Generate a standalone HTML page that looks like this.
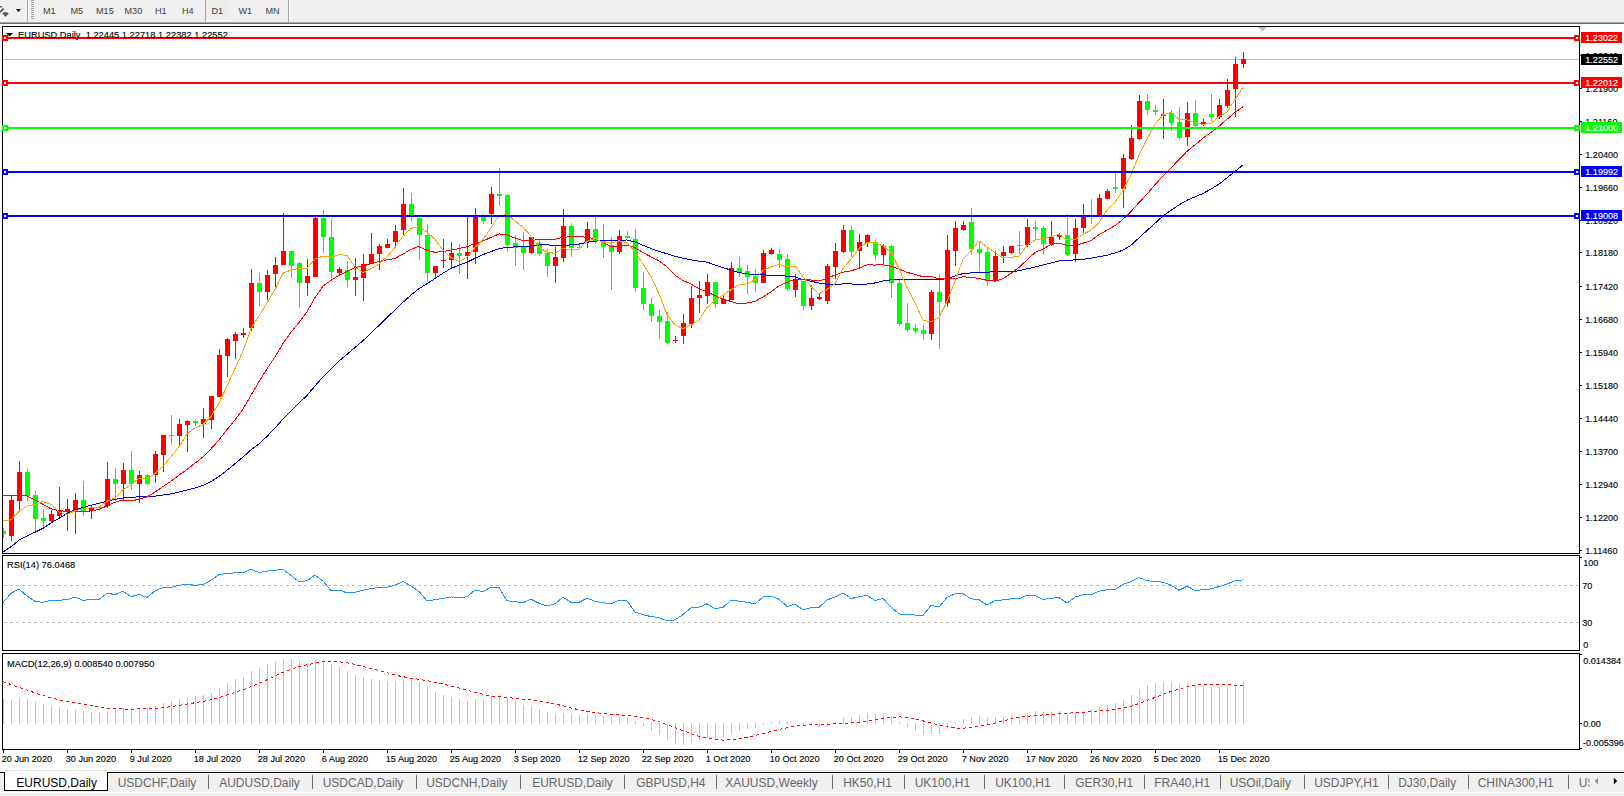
<!DOCTYPE html><html><head><meta charset="utf-8"><style>
html,body{margin:0;padding:0;background:#fff;width:1624px;height:796px;overflow:hidden;}
body{position:relative;font-family:"Liberation Sans",sans-serif;}
.a{position:absolute;}
svg text{font-family:"Liberation Sans",sans-serif;}
</style></head><body>
<svg class="a" style="left:0;top:0" width="1624" height="796" viewBox="0 0 1624 796">
<rect x="0" y="0" width="1624" height="22" fill="#f0f0f0"/>
<rect x="0" y="22" width="1624" height="1" fill="#a5a5a5"/>
<rect x="0" y="23" width="1624" height="1" fill="#6e6e6e"/>
<rect x="27" y="0" width="1" height="22" fill="#a0a0a0"/><rect x="28" y="0" width="1" height="22" fill="#ffffff"/>
<rect x="205" y="0" width="1" height="22" fill="#a0a0a0"/><rect x="206" y="0" width="1" height="22" fill="#ffffff"/>
<rect x="288" y="0" width="1" height="22" fill="#a0a0a0"/><rect x="289" y="0" width="1" height="22" fill="#ffffff"/>
<rect x="31" y="0" width="3" height="1" fill="#a0a0a0"/>
<rect x="31" y="2" width="3" height="1" fill="#a0a0a0"/>
<rect x="31" y="4" width="3" height="1" fill="#a0a0a0"/>
<rect x="31" y="6" width="3" height="1" fill="#a0a0a0"/>
<rect x="31" y="8" width="3" height="1" fill="#a0a0a0"/>
<rect x="31" y="10" width="3" height="1" fill="#a0a0a0"/>
<rect x="31" y="12" width="3" height="1" fill="#a0a0a0"/>
<rect x="31" y="14" width="3" height="1" fill="#a0a0a0"/>
<rect x="31" y="16" width="3" height="1" fill="#a0a0a0"/>
<rect x="31" y="18" width="3" height="1" fill="#a0a0a0"/>
<rect x="206" y="0" width="24" height="20" fill="#ededed"/>
<rect x="206" y="20" width="24" height="1" fill="#ffffff"/>
<path d="M0,6.6 Q1.6,6.6 2,7.2" fill="none" stroke="#444" stroke-width="1.1"/>
<path d="M3.6,8.4 L0,12.2" fill="none" stroke="#333" stroke-width="1.4"/>
<path d="M2.2,13.2 L4.5,12.3 L6.5,12.3 L8.8,13.2 L5.5,16.9 Z" fill="#555"/>
<path d="M16,9 L21,9 L18.5,12 Z" fill="#000"/>
<g shape-rendering="crispEdges">
<rect x="3" y="59" width="1576" height="1" fill="#c0c0c0"/>
<rect x="3" y="528" width="1" height="10" fill="#00ff00"/>
<rect x="1" y="531" width="5" height="3" fill="#00ff00"/>
<rect x="11" y="496" width="1" height="45" fill="#ff0000"/>
<rect x="9" y="500" width="5" height="36" fill="#ff0000"/>
<rect x="19" y="461" width="1" height="51" fill="#ff0000"/>
<rect x="17" y="472" width="5" height="29" fill="#ff0000"/>
<rect x="27" y="469" width="1" height="33" fill="#00ff00"/>
<rect x="25" y="472" width="5" height="24" fill="#00ff00"/>
<rect x="35" y="491" width="1" height="40" fill="#00ff00"/>
<rect x="33" y="495" width="5" height="24" fill="#00ff00"/>
<rect x="43" y="509" width="1" height="19" fill="#00ff00"/>
<rect x="41" y="518" width="5" height="3" fill="#00ff00"/>
<rect x="51" y="510" width="1" height="12" fill="#ff0000"/>
<rect x="49" y="514" width="5" height="7" fill="#ff0000"/>
<rect x="59" y="487" width="1" height="31" fill="#ff0000"/>
<rect x="57" y="510" width="5" height="6" fill="#ff0000"/>
<rect x="67" y="499" width="1" height="32" fill="#ff0000"/>
<rect x="65" y="509" width="5" height="2" fill="#ff0000"/>
<rect x="75" y="493" width="1" height="41" fill="#ff0000"/>
<rect x="73" y="500" width="5" height="10" fill="#ff0000"/>
<rect x="83" y="481" width="1" height="35" fill="#00ff00"/>
<rect x="81" y="500" width="5" height="11" fill="#00ff00"/>
<rect x="91" y="506" width="1" height="13" fill="#ff0000"/>
<rect x="89" y="508" width="5" height="2" fill="#ff0000"/>
<rect x="99" y="506" width="1" height="5" fill="#00ff00"/>
<rect x="97" y="507" width="5" height="1" fill="#00ff00"/>
<rect x="107" y="462" width="1" height="46" fill="#ff0000"/>
<rect x="105" y="479" width="5" height="27" fill="#ff0000"/>
<rect x="115" y="468" width="1" height="33" fill="#00ff00"/>
<rect x="113" y="479" width="5" height="5" fill="#00ff00"/>
<rect x="123" y="463" width="1" height="37" fill="#ff0000"/>
<rect x="121" y="470" width="5" height="14" fill="#ff0000"/>
<rect x="131" y="451" width="1" height="39" fill="#00ff00"/>
<rect x="129" y="470" width="5" height="14" fill="#00ff00"/>
<rect x="139" y="471" width="1" height="32" fill="#ff0000"/>
<rect x="137" y="475" width="5" height="9" fill="#ff0000"/>
<rect x="147" y="474" width="1" height="11" fill="#00ff00"/>
<rect x="145" y="475" width="5" height="9" fill="#00ff00"/>
<rect x="155" y="451" width="1" height="32" fill="#ff0000"/>
<rect x="153" y="454" width="5" height="21" fill="#ff0000"/>
<rect x="163" y="435" width="1" height="37" fill="#ff0000"/>
<rect x="161" y="435" width="5" height="20" fill="#ff0000"/>
<rect x="171" y="415" width="1" height="30" fill="#00ff00"/>
<rect x="169" y="435" width="5" height="1" fill="#00ff00"/>
<rect x="179" y="419" width="1" height="28" fill="#ff0000"/>
<rect x="177" y="424" width="5" height="12" fill="#ff0000"/>
<rect x="187" y="420" width="1" height="32" fill="#ff0000"/>
<rect x="185" y="421" width="5" height="4" fill="#ff0000"/>
<rect x="195" y="419" width="1" height="7" fill="#00ff00"/>
<rect x="193" y="421" width="5" height="2" fill="#00ff00"/>
<rect x="203" y="408" width="1" height="30" fill="#ff0000"/>
<rect x="201" y="419" width="5" height="5" fill="#ff0000"/>
<rect x="211" y="396" width="1" height="33" fill="#ff0000"/>
<rect x="209" y="396" width="5" height="24" fill="#ff0000"/>
<rect x="219" y="349" width="1" height="48" fill="#ff0000"/>
<rect x="217" y="355" width="5" height="42" fill="#ff0000"/>
<rect x="227" y="338" width="1" height="39" fill="#ff0000"/>
<rect x="225" y="339" width="5" height="17" fill="#ff0000"/>
<rect x="235" y="332" width="1" height="27" fill="#ff0000"/>
<rect x="233" y="334" width="5" height="7" fill="#ff0000"/>
<rect x="243" y="328" width="1" height="10" fill="#ff0000"/>
<rect x="241" y="333" width="5" height="2" fill="#ff0000"/>
<rect x="251" y="269" width="1" height="62" fill="#ff0000"/>
<rect x="249" y="283" width="5" height="45" fill="#ff0000"/>
<rect x="259" y="273" width="1" height="33" fill="#00ff00"/>
<rect x="257" y="283" width="5" height="9" fill="#00ff00"/>
<rect x="267" y="270" width="1" height="30" fill="#ff0000"/>
<rect x="265" y="275" width="5" height="17" fill="#ff0000"/>
<rect x="275" y="257" width="1" height="33" fill="#ff0000"/>
<rect x="273" y="265" width="5" height="9" fill="#ff0000"/>
<rect x="283" y="213" width="1" height="52" fill="#ff0000"/>
<rect x="281" y="251" width="5" height="14" fill="#ff0000"/>
<rect x="291" y="251" width="1" height="27" fill="#00ff00"/>
<rect x="289" y="251" width="5" height="15" fill="#00ff00"/>
<rect x="299" y="262" width="1" height="46" fill="#00ff00"/>
<rect x="297" y="263" width="5" height="20" fill="#00ff00"/>
<rect x="307" y="259" width="1" height="37" fill="#ff0000"/>
<rect x="305" y="276" width="5" height="7" fill="#ff0000"/>
<rect x="315" y="215" width="1" height="62" fill="#ff0000"/>
<rect x="313" y="218" width="5" height="59" fill="#ff0000"/>
<rect x="323" y="210" width="1" height="43" fill="#00ff00"/>
<rect x="321" y="218" width="5" height="19" fill="#00ff00"/>
<rect x="331" y="219" width="1" height="61" fill="#00ff00"/>
<rect x="329" y="237" width="5" height="35" fill="#00ff00"/>
<rect x="339" y="267" width="1" height="8" fill="#ff0000"/>
<rect x="337" y="269" width="5" height="4" fill="#ff0000"/>
<rect x="347" y="261" width="1" height="26" fill="#00ff00"/>
<rect x="345" y="270" width="5" height="10" fill="#00ff00"/>
<rect x="355" y="258" width="1" height="38" fill="#ff0000"/>
<rect x="353" y="277" width="5" height="3" fill="#ff0000"/>
<rect x="363" y="254" width="1" height="47" fill="#ff0000"/>
<rect x="361" y="264" width="5" height="14" fill="#ff0000"/>
<rect x="371" y="233" width="1" height="31" fill="#ff0000"/>
<rect x="369" y="254" width="5" height="10" fill="#ff0000"/>
<rect x="379" y="244" width="1" height="26" fill="#ff0000"/>
<rect x="377" y="246" width="5" height="8" fill="#ff0000"/>
<rect x="387" y="239" width="1" height="9" fill="#ff0000"/>
<rect x="385" y="244" width="5" height="4" fill="#ff0000"/>
<rect x="395" y="225" width="1" height="21" fill="#ff0000"/>
<rect x="393" y="231" width="5" height="11" fill="#ff0000"/>
<rect x="403" y="188" width="1" height="48" fill="#ff0000"/>
<rect x="401" y="204" width="5" height="26" fill="#ff0000"/>
<rect x="411" y="193" width="1" height="28" fill="#00ff00"/>
<rect x="409" y="204" width="5" height="13" fill="#00ff00"/>
<rect x="419" y="218" width="1" height="42" fill="#00ff00"/>
<rect x="417" y="218" width="5" height="17" fill="#00ff00"/>
<rect x="427" y="224" width="1" height="58" fill="#00ff00"/>
<rect x="425" y="235" width="5" height="38" fill="#00ff00"/>
<rect x="435" y="266" width="1" height="12" fill="#ff0000"/>
<rect x="433" y="266" width="5" height="7" fill="#ff0000"/>
<rect x="443" y="239" width="1" height="29" fill="#ff0000"/>
<rect x="441" y="260" width="5" height="1" fill="#ff0000"/>
<rect x="451" y="242" width="1" height="26" fill="#ff0000"/>
<rect x="449" y="253" width="5" height="7" fill="#ff0000"/>
<rect x="459" y="244" width="1" height="30" fill="#00ff00"/>
<rect x="457" y="253" width="5" height="3" fill="#00ff00"/>
<rect x="467" y="217" width="1" height="62" fill="#ff0000"/>
<rect x="465" y="252" width="5" height="4" fill="#ff0000"/>
<rect x="475" y="208" width="1" height="56" fill="#ff0000"/>
<rect x="473" y="216" width="5" height="36" fill="#ff0000"/>
<rect x="483" y="214" width="1" height="10" fill="#00ff00"/>
<rect x="481" y="217" width="5" height="4" fill="#00ff00"/>
<rect x="491" y="187" width="1" height="37" fill="#ff0000"/>
<rect x="489" y="194" width="5" height="20" fill="#ff0000"/>
<rect x="499" y="168" width="1" height="38" fill="#00ff00"/>
<rect x="497" y="194" width="5" height="2" fill="#00ff00"/>
<rect x="507" y="194" width="1" height="58" fill="#00ff00"/>
<rect x="505" y="195" width="5" height="50" fill="#00ff00"/>
<rect x="515" y="235" width="1" height="31" fill="#00ff00"/>
<rect x="513" y="243" width="5" height="5" fill="#00ff00"/>
<rect x="523" y="232" width="1" height="38" fill="#00ff00"/>
<rect x="521" y="247" width="5" height="6" fill="#00ff00"/>
<rect x="531" y="236" width="1" height="18" fill="#ff0000"/>
<rect x="529" y="237" width="5" height="16" fill="#ff0000"/>
<rect x="539" y="240" width="1" height="16" fill="#00ff00"/>
<rect x="537" y="243" width="5" height="11" fill="#00ff00"/>
<rect x="547" y="249" width="1" height="28" fill="#00ff00"/>
<rect x="545" y="253" width="5" height="13" fill="#00ff00"/>
<rect x="555" y="247" width="1" height="36" fill="#ff0000"/>
<rect x="553" y="257" width="5" height="9" fill="#ff0000"/>
<rect x="563" y="209" width="1" height="53" fill="#ff0000"/>
<rect x="561" y="226" width="5" height="32" fill="#ff0000"/>
<rect x="571" y="223" width="1" height="34" fill="#00ff00"/>
<rect x="569" y="226" width="5" height="22" fill="#00ff00"/>
<rect x="579" y="243" width="1" height="6" fill="#00ff00"/>
<rect x="577" y="247" width="5" height="1" fill="#00ff00"/>
<rect x="587" y="222" width="1" height="26" fill="#ff0000"/>
<rect x="585" y="229" width="5" height="13" fill="#ff0000"/>
<rect x="595" y="217" width="1" height="27" fill="#00ff00"/>
<rect x="593" y="229" width="5" height="12" fill="#00ff00"/>
<rect x="603" y="224" width="1" height="34" fill="#00ff00"/>
<rect x="601" y="240" width="5" height="7" fill="#00ff00"/>
<rect x="611" y="237" width="1" height="53" fill="#00ff00"/>
<rect x="609" y="245" width="5" height="7" fill="#00ff00"/>
<rect x="619" y="230" width="1" height="24" fill="#ff0000"/>
<rect x="617" y="236" width="5" height="16" fill="#ff0000"/>
<rect x="627" y="231" width="1" height="8" fill="#00ff00"/>
<rect x="625" y="236" width="5" height="2" fill="#00ff00"/>
<rect x="635" y="229" width="1" height="63" fill="#00ff00"/>
<rect x="633" y="239" width="5" height="49" fill="#00ff00"/>
<rect x="643" y="272" width="1" height="38" fill="#00ff00"/>
<rect x="641" y="288" width="5" height="16" fill="#00ff00"/>
<rect x="651" y="298" width="1" height="24" fill="#00ff00"/>
<rect x="649" y="304" width="5" height="12" fill="#00ff00"/>
<rect x="659" y="310" width="1" height="29" fill="#00ff00"/>
<rect x="657" y="316" width="5" height="6" fill="#00ff00"/>
<rect x="667" y="312" width="1" height="32" fill="#00ff00"/>
<rect x="665" y="321" width="5" height="22" fill="#00ff00"/>
<rect x="675" y="336" width="1" height="7" fill="#ff0000"/>
<rect x="673" y="340" width="5" height="1" fill="#ff0000"/>
<rect x="683" y="314" width="1" height="30" fill="#ff0000"/>
<rect x="681" y="323" width="5" height="13" fill="#ff0000"/>
<rect x="691" y="286" width="1" height="42" fill="#ff0000"/>
<rect x="689" y="298" width="5" height="26" fill="#ff0000"/>
<rect x="699" y="281" width="1" height="32" fill="#ff0000"/>
<rect x="697" y="295" width="5" height="3" fill="#ff0000"/>
<rect x="707" y="274" width="1" height="30" fill="#ff0000"/>
<rect x="705" y="282" width="5" height="14" fill="#ff0000"/>
<rect x="715" y="282" width="1" height="26" fill="#00ff00"/>
<rect x="713" y="282" width="5" height="22" fill="#00ff00"/>
<rect x="723" y="296" width="1" height="8" fill="#ff0000"/>
<rect x="721" y="299" width="5" height="5" fill="#ff0000"/>
<rect x="731" y="262" width="1" height="38" fill="#ff0000"/>
<rect x="729" y="268" width="5" height="32" fill="#ff0000"/>
<rect x="739" y="257" width="1" height="20" fill="#00ff00"/>
<rect x="737" y="268" width="5" height="4" fill="#00ff00"/>
<rect x="747" y="265" width="1" height="29" fill="#00ff00"/>
<rect x="745" y="271" width="5" height="6" fill="#00ff00"/>
<rect x="755" y="269" width="1" height="23" fill="#00ff00"/>
<rect x="753" y="276" width="5" height="7" fill="#00ff00"/>
<rect x="763" y="250" width="1" height="33" fill="#ff0000"/>
<rect x="761" y="253" width="5" height="30" fill="#ff0000"/>
<rect x="771" y="248" width="1" height="7" fill="#ff0000"/>
<rect x="769" y="250" width="5" height="4" fill="#ff0000"/>
<rect x="779" y="249" width="1" height="19" fill="#00ff00"/>
<rect x="777" y="254" width="5" height="6" fill="#00ff00"/>
<rect x="787" y="254" width="1" height="37" fill="#00ff00"/>
<rect x="785" y="259" width="5" height="30" fill="#00ff00"/>
<rect x="795" y="274" width="1" height="23" fill="#ff0000"/>
<rect x="793" y="280" width="5" height="10" fill="#ff0000"/>
<rect x="803" y="281" width="1" height="29" fill="#00ff00"/>
<rect x="801" y="281" width="5" height="25" fill="#00ff00"/>
<rect x="811" y="285" width="1" height="25" fill="#ff0000"/>
<rect x="809" y="298" width="5" height="8" fill="#ff0000"/>
<rect x="819" y="294" width="1" height="6" fill="#ff0000"/>
<rect x="817" y="297" width="5" height="2" fill="#ff0000"/>
<rect x="827" y="264" width="1" height="40" fill="#ff0000"/>
<rect x="825" y="266" width="5" height="35" fill="#ff0000"/>
<rect x="835" y="243" width="1" height="36" fill="#ff0000"/>
<rect x="833" y="251" width="5" height="16" fill="#ff0000"/>
<rect x="843" y="225" width="1" height="28" fill="#ff0000"/>
<rect x="841" y="230" width="5" height="22" fill="#ff0000"/>
<rect x="851" y="226" width="1" height="31" fill="#00ff00"/>
<rect x="849" y="230" width="5" height="22" fill="#00ff00"/>
<rect x="859" y="234" width="1" height="34" fill="#ff0000"/>
<rect x="857" y="242" width="5" height="9" fill="#ff0000"/>
<rect x="867" y="234" width="1" height="13" fill="#ff0000"/>
<rect x="865" y="235" width="5" height="8" fill="#ff0000"/>
<rect x="875" y="239" width="1" height="22" fill="#00ff00"/>
<rect x="873" y="242" width="5" height="13" fill="#00ff00"/>
<rect x="883" y="244" width="1" height="20" fill="#ff0000"/>
<rect x="881" y="246" width="5" height="9" fill="#ff0000"/>
<rect x="891" y="245" width="1" height="53" fill="#00ff00"/>
<rect x="889" y="246" width="5" height="37" fill="#00ff00"/>
<rect x="899" y="279" width="1" height="47" fill="#00ff00"/>
<rect x="897" y="283" width="5" height="41" fill="#00ff00"/>
<rect x="907" y="303" width="1" height="29" fill="#00ff00"/>
<rect x="905" y="323" width="5" height="7" fill="#00ff00"/>
<rect x="915" y="324" width="1" height="9" fill="#00ff00"/>
<rect x="913" y="328" width="5" height="3" fill="#00ff00"/>
<rect x="923" y="325" width="1" height="15" fill="#00ff00"/>
<rect x="921" y="330" width="5" height="4" fill="#00ff00"/>
<rect x="931" y="290" width="1" height="50" fill="#ff0000"/>
<rect x="929" y="292" width="5" height="42" fill="#ff0000"/>
<rect x="939" y="274" width="1" height="75" fill="#00ff00"/>
<rect x="937" y="292" width="5" height="10" fill="#00ff00"/>
<rect x="947" y="235" width="1" height="72" fill="#ff0000"/>
<rect x="945" y="250" width="5" height="53" fill="#ff0000"/>
<rect x="955" y="221" width="1" height="45" fill="#ff0000"/>
<rect x="953" y="228" width="5" height="23" fill="#ff0000"/>
<rect x="963" y="221" width="1" height="10" fill="#ff0000"/>
<rect x="961" y="225" width="5" height="5" fill="#ff0000"/>
<rect x="971" y="208" width="1" height="47" fill="#00ff00"/>
<rect x="969" y="222" width="5" height="27" fill="#00ff00"/>
<rect x="979" y="242" width="1" height="29" fill="#00ff00"/>
<rect x="977" y="249" width="5" height="4" fill="#00ff00"/>
<rect x="987" y="247" width="1" height="39" fill="#00ff00"/>
<rect x="985" y="252" width="5" height="28" fill="#00ff00"/>
<rect x="995" y="251" width="1" height="31" fill="#ff0000"/>
<rect x="993" y="256" width="5" height="24" fill="#ff0000"/>
<rect x="1003" y="246" width="1" height="17" fill="#ff0000"/>
<rect x="1001" y="252" width="5" height="4" fill="#ff0000"/>
<rect x="1011" y="246" width="1" height="8" fill="#ff0000"/>
<rect x="1009" y="246" width="5" height="7" fill="#ff0000"/>
<rect x="1019" y="231" width="1" height="23" fill="#00ff00"/>
<rect x="1017" y="245" width="5" height="1" fill="#00ff00"/>
<rect x="1027" y="219" width="1" height="28" fill="#ff0000"/>
<rect x="1025" y="227" width="5" height="18" fill="#ff0000"/>
<rect x="1035" y="221" width="1" height="18" fill="#00ff00"/>
<rect x="1033" y="227" width="5" height="2" fill="#00ff00"/>
<rect x="1043" y="226" width="1" height="29" fill="#00ff00"/>
<rect x="1041" y="228" width="5" height="16" fill="#00ff00"/>
<rect x="1051" y="221" width="1" height="25" fill="#ff0000"/>
<rect x="1049" y="237" width="5" height="7" fill="#ff0000"/>
<rect x="1059" y="233" width="1" height="7" fill="#ff0000"/>
<rect x="1057" y="235" width="5" height="2" fill="#ff0000"/>
<rect x="1067" y="214" width="1" height="42" fill="#00ff00"/>
<rect x="1065" y="235" width="5" height="20" fill="#00ff00"/>
<rect x="1075" y="219" width="1" height="43" fill="#ff0000"/>
<rect x="1073" y="228" width="5" height="26" fill="#ff0000"/>
<rect x="1083" y="204" width="1" height="29" fill="#ff0000"/>
<rect x="1081" y="216" width="5" height="12" fill="#ff0000"/>
<rect x="1091" y="199" width="1" height="25" fill="#00ff00"/>
<rect x="1089" y="216" width="5" height="1" fill="#00ff00"/>
<rect x="1099" y="194" width="1" height="22" fill="#ff0000"/>
<rect x="1097" y="198" width="5" height="18" fill="#ff0000"/>
<rect x="1107" y="189" width="1" height="10" fill="#ff0000"/>
<rect x="1105" y="191" width="5" height="8" fill="#ff0000"/>
<rect x="1115" y="173" width="1" height="20" fill="#00ff00"/>
<rect x="1113" y="187" width="5" height="2" fill="#00ff00"/>
<rect x="1123" y="154" width="1" height="54" fill="#ff0000"/>
<rect x="1121" y="158" width="5" height="31" fill="#ff0000"/>
<rect x="1131" y="125" width="1" height="35" fill="#ff0000"/>
<rect x="1129" y="138" width="5" height="21" fill="#ff0000"/>
<rect x="1139" y="95" width="1" height="45" fill="#ff0000"/>
<rect x="1137" y="101" width="5" height="38" fill="#ff0000"/>
<rect x="1147" y="94" width="1" height="21" fill="#00ff00"/>
<rect x="1145" y="101" width="5" height="9" fill="#00ff00"/>
<rect x="1155" y="105" width="1" height="10" fill="#00ff00"/>
<rect x="1153" y="110" width="5" height="2" fill="#00ff00"/>
<rect x="1163" y="99" width="1" height="40" fill="#ff0000"/>
<rect x="1161" y="114" width="5" height="2" fill="#ff0000"/>
<rect x="1171" y="110" width="1" height="21" fill="#00ff00"/>
<rect x="1169" y="113" width="5" height="10" fill="#00ff00"/>
<rect x="1179" y="107" width="1" height="32" fill="#00ff00"/>
<rect x="1177" y="122" width="5" height="16" fill="#00ff00"/>
<rect x="1187" y="102" width="1" height="44" fill="#ff0000"/>
<rect x="1185" y="113" width="5" height="24" fill="#ff0000"/>
<rect x="1195" y="100" width="1" height="27" fill="#00ff00"/>
<rect x="1193" y="113" width="5" height="13" fill="#00ff00"/>
<rect x="1203" y="119" width="1" height="7" fill="#ff0000"/>
<rect x="1201" y="122" width="5" height="3" fill="#ff0000"/>
<rect x="1211" y="94" width="1" height="27" fill="#00ff00"/>
<rect x="1209" y="114" width="5" height="3" fill="#00ff00"/>
<rect x="1219" y="99" width="1" height="20" fill="#ff0000"/>
<rect x="1217" y="105" width="5" height="12" fill="#ff0000"/>
<rect x="1227" y="79" width="1" height="29" fill="#ff0000"/>
<rect x="1225" y="90" width="5" height="16" fill="#ff0000"/>
<rect x="1235" y="57" width="1" height="60" fill="#ff0000"/>
<rect x="1233" y="64" width="5" height="25" fill="#ff0000"/>
<rect x="1243" y="52" width="1" height="16" fill="#ff0000"/>
<rect x="1241" y="59" width="5" height="5" fill="#ff0000"/>
</g>
<g shape-rendering="crispEdges">
<polyline points="3,552.04 11,546.77 19,540.18 27,535.81 35,532.25 43,528.33 51,522.90 59,518.25 67,513.64 75,509.81 83,507.53 91,505.21 99,503.42 107,501.07 115,499.45 123,497.92 131,497.33 139,496.84 147,496.93 155,496.21 163,494.98 171,493.80 179,492.10 187,490.10 195,487.91 203,485.32 211,481.67 219,476.36 227,470.25 235,463.76 243,457.04 251,449.79 259,443.78 267,436.42 275,427.97 283,419.00 291,410.74 299,403.17 307,395.40 315,385.99 323,376.87 331,369.01 339,361.06 347,354.44 355,347.55 363,340.67 371,333.00 379,325.37 387,317.38 395,309.95 403,302.26 411,294.95 419,288.67 427,283.72 435,278.52 443,273.20 451,268.43 459,265.13 467,262.23 475,258.31 483,254.60 491,251.65 499,248.46 507,247.44 515,246.87 523,246.93 531,245.96 539,244.98 547,244.67 555,245.97 563,245.60 571,244.77 579,244.06 587,242.35 595,241.15 603,240.59 611,240.52 619,240.19 627,239.99 635,241.90 643,245.25 651,248.52 659,251.40 667,253.74 675,256.19 683,258.31 691,259.81 699,261.11 707,262.12 715,265.03 723,267.62 731,270.09 739,272.63 747,273.70 755,274.84 763,274.84 771,275.25 779,275.45 787,276.19 795,276.97 803,279.62 811,281.30 819,282.94 827,284.17 835,284.51 843,283.95 851,283.97 859,284.17 867,284.07 875,282.94 883,280.99 891,279.91 899,279.98 907,279.53 915,279.22 923,279.58 931,279.38 939,279.61 947,278.54 955,276.01 963,273.55 971,272.90 979,272.26 987,272.36 995,271.47 1003,271.45 1011,271.34 1019,270.87 1027,268.82 1035,267.09 1043,265.04 1051,263.01 1059,260.95 1067,260.58 1075,259.81 1083,259.35 1091,258.17 1099,256.70 1107,255.22 1115,253.02 1123,250.10 1131,245.26 1139,237.83 1147,230.53 1155,223.25 1163,215.94 1171,210.30 1179,204.83 1187,200.26 1195,196.87 1203,193.44 1211,189.07 1219,184.13 1227,177.79 1235,171.39 1243,164.95" fill="none" stroke="#0000cd" stroke-width="1" />
<polyline points="3,495.42 11,495.83 19,494.84 27,495.97 35,500.00 43,504.29 51,508.79 59,510.59 67,511.36 75,511.46 83,511.70 91,510.85 99,509.60 107,505.81 115,502.18 123,500.03 131,500.85 139,499.35 147,496.86 155,492.11 163,486.46 171,481.17 179,475.10 187,469.46 195,463.14 203,456.79 211,448.79 219,439.93 227,429.59 235,419.85 243,409.08 251,395.35 259,381.60 267,368.84 275,356.72 283,343.50 291,332.24 299,322.41 307,311.94 315,297.56 323,286.21 331,280.31 339,275.36 347,271.55 355,267.57 363,266.19 371,263.48 379,261.38 387,259.89 395,258.44 403,254.00 411,249.28 419,246.38 427,250.30 435,252.39 443,251.47 451,250.31 459,248.56 467,246.74 475,243.37 483,241.07 491,237.37 499,233.90 507,234.89 515,238.04 523,240.59 531,240.73 539,239.40 547,239.40 555,239.21 563,237.29 571,236.69 579,236.43 587,237.34 595,238.74 603,242.50 611,246.48 619,245.85 627,245.14 635,247.67 643,252.46 651,256.86 659,260.80 667,266.95 675,275.09 683,280.48 691,284.06 699,288.76 707,291.69 715,295.74 723,299.14 731,301.44 739,303.84 747,303.01 755,301.46 763,296.97 771,291.84 779,285.91 787,282.25 795,279.21 803,279.74 811,279.96 819,281.03 827,278.35 835,274.94 843,272.21 851,270.77 859,268.30 867,264.90 875,265.04 883,264.76 891,266.44 899,268.92 907,272.44 915,274.24 923,276.79 931,276.44 939,278.99 947,278.89 955,278.73 963,276.82 971,277.29 979,278.54 987,280.34 995,281.06 1003,278.84 1011,273.32 1019,267.34 1027,259.95 1035,252.44 1043,249.00 1051,244.40 1059,243.35 1067,245.28 1075,245.49 1083,243.18 1091,240.59 1099,234.74 1107,230.08 1115,225.55 1123,219.26 1131,211.55 1139,202.53 1147,194.09 1155,184.69 1163,175.92 1171,167.89 1179,159.51 1187,151.29 1195,144.84 1203,138.11 1211,132.36 1219,126.21 1227,119.14 1235,112.39 1243,106.75" fill="none" stroke="#ff0000" stroke-width="1" />
<polyline points="3,520.94 11,519.87 19,511.41 27,506.20 35,504.24 43,501.50 51,504.28 59,511.98 67,514.58 75,510.82 83,508.90 91,507.70 99,507.20 107,501.20 115,497.90 123,489.70 131,484.80 139,478.20 147,479.20 155,473.30 163,466.30 171,456.88 179,446.68 187,434.08 195,427.80 203,424.60 211,416.52 219,402.72 227,386.26 235,368.48 243,351.22 251,328.58 259,315.88 267,303.22 275,289.54 283,273.26 291,269.96 299,268.34 307,268.46 315,258.94 323,256.12 331,257.34 339,254.52 347,255.40 355,267.26 363,272.52 371,268.74 379,264.08 387,256.88 395,247.68 403,235.82 411,228.58 419,226.46 427,232.10 435,239.20 443,250.26 451,257.40 459,261.52 467,257.30 475,247.26 483,239.62 491,227.86 499,215.82 507,214.48 515,220.90 523,227.22 531,235.86 539,247.50 547,251.84 555,253.54 563,248.16 571,250.20 579,248.98 587,241.48 595,238.30 603,242.46 611,243.24 619,240.86 627,242.74 635,252.22 643,263.76 651,276.58 659,293.70 667,314.62 675,324.94 683,328.64 691,325.12 699,319.78 707,307.58 715,300.28 723,295.48 731,289.54 739,284.96 747,283.92 755,279.78 763,270.52 771,266.82 779,264.40 787,266.80 795,266.32 803,276.88 811,286.52 819,293.92 827,289.36 835,283.54 843,268.44 851,259.22 859,248.28 867,242.12 875,242.80 883,245.96 891,252.26 899,268.54 907,287.42 915,302.62 923,320.20 931,321.94 939,317.54 947,301.60 955,281.02 963,259.32 971,250.64 979,240.86 987,246.88 995,252.50 1003,257.92 1011,257.44 1019,256.08 1027,245.52 1035,240.06 1043,238.38 1051,236.56 1059,234.42 1067,239.94 1075,239.84 1083,234.34 1091,230.20 1099,222.76 1107,209.94 1115,202.10 1123,190.46 1131,174.76 1139,155.34 1147,139.28 1155,123.98 1163,115.22 1171,112.18 1179,119.50 1187,120.02 1195,122.74 1203,124.34 1211,123.26 1219,116.70 1227,112.06 1235,99.60 1243,86.94" fill="none" stroke="#ffa500" stroke-width="1" />
</g>
<g shape-rendering="crispEdges">
<rect x="0" y="24" width="2" height="746" fill="#fff"/>
<rect x="2" y="26" width="1578" height="1" fill="#000"/>
<rect x="2" y="553" width="1578" height="1" fill="#000"/>
<rect x="2" y="26" width="1" height="528" fill="#000"/>
<rect x="1579" y="26" width="1" height="528" fill="#000"/>
<rect x="2" y="555" width="1578" height="1" fill="#000"/>
<rect x="2" y="650" width="1578" height="1" fill="#000"/>
<rect x="2" y="555" width="1" height="96" fill="#000"/>
<rect x="1579" y="555" width="1" height="96" fill="#000"/>
<rect x="2" y="653" width="1578" height="1" fill="#000"/>
<rect x="2" y="749" width="1578" height="1" fill="#000"/>
<rect x="2" y="653" width="1" height="97" fill="#000"/>
<rect x="1579" y="653" width="1" height="97" fill="#000"/>
</g>
<g shape-rendering="crispEdges">
<rect x="3" y="37" width="1576" height="2" fill="#ff0000"/>
<rect x="2" y="35" width="6" height="6" fill="#ff0000"/><rect x="4" y="37" width="2" height="2" fill="#fff"/>
<rect x="1574" y="35" width="6" height="6" fill="#ff0000"/><rect x="1576" y="37" width="2" height="2" fill="#fff"/>
<rect x="3" y="82" width="1576" height="2" fill="#ff0000"/>
<rect x="2" y="80" width="6" height="6" fill="#ff0000"/><rect x="4" y="82" width="2" height="2" fill="#fff"/>
<rect x="1574" y="80" width="6" height="6" fill="#ff0000"/><rect x="1576" y="82" width="2" height="2" fill="#fff"/>
<rect x="3" y="127" width="1576" height="2" fill="#00ff00"/>
<rect x="2" y="125" width="6" height="6" fill="#00ff00"/><rect x="4" y="127" width="2" height="2" fill="#fff"/>
<rect x="1574" y="125" width="6" height="6" fill="#00ff00"/><rect x="1576" y="127" width="2" height="2" fill="#fff"/>
<rect x="3" y="171" width="1576" height="2" fill="#0000ff"/>
<rect x="2" y="169" width="6" height="6" fill="#0000ff"/><rect x="4" y="171" width="2" height="2" fill="#fff"/>
<rect x="1574" y="169" width="6" height="6" fill="#0000ff"/><rect x="1576" y="171" width="2" height="2" fill="#fff"/>
<rect x="3" y="215" width="1576" height="2" fill="#0000ff"/>
<rect x="2" y="213" width="6" height="6" fill="#0000ff"/><rect x="4" y="215" width="2" height="2" fill="#fff"/>
<rect x="1574" y="213" width="6" height="6" fill="#0000ff"/><rect x="1576" y="215" width="2" height="2" fill="#fff"/>
</g>
<path d="M1258,27 L1267,27 L1262.5,31.5 Z" fill="#c0c0c0"/>
<path d="M6,33 L13,33 L9.5,36.5 Z" fill="#000"/>
<g shape-rendering="crispEdges">
<rect x="1580" y="55" width="2" height="1" fill="#000"/>
<rect x="1580" y="88" width="2" height="1" fill="#000"/>
<rect x="1580" y="121" width="2" height="1" fill="#000"/>
<rect x="1580" y="154" width="2" height="1" fill="#000"/>
<rect x="1580" y="187" width="2" height="1" fill="#000"/>
<rect x="1580" y="220" width="2" height="1" fill="#000"/>
<rect x="1580" y="252" width="2" height="1" fill="#000"/>
<rect x="1580" y="286" width="2" height="1" fill="#000"/>
<rect x="1580" y="319" width="2" height="1" fill="#000"/>
<rect x="1580" y="352" width="2" height="1" fill="#000"/>
<rect x="1580" y="385" width="2" height="1" fill="#000"/>
<rect x="1580" y="418" width="2" height="1" fill="#000"/>
<rect x="1580" y="451" width="2" height="1" fill="#000"/>
<rect x="1580" y="484" width="2" height="1" fill="#000"/>
<rect x="1580" y="517" width="2" height="1" fill="#000"/>
<rect x="1580" y="550" width="2" height="1" fill="#000"/>
</g>
<text transform="translate(1585.3,59) scale(0.967,1)" font-size="9.4px" fill="#000" stroke="#000" stroke-width="0.12" >1.22640</text>
<text transform="translate(1585.3,92) scale(0.967,1)" font-size="9.4px" fill="#000" stroke="#000" stroke-width="0.12" >1.21900</text>
<text transform="translate(1585.3,125) scale(0.967,1)" font-size="9.4px" fill="#000" stroke="#000" stroke-width="0.12" >1.21160</text>
<text transform="translate(1585.3,158) scale(0.967,1)" font-size="9.4px" fill="#000" stroke="#000" stroke-width="0.12" >1.20400</text>
<text transform="translate(1585.3,191) scale(0.967,1)" font-size="9.4px" fill="#000" stroke="#000" stroke-width="0.12" >1.19660</text>
<text transform="translate(1585.3,224) scale(0.967,1)" font-size="9.4px" fill="#000" stroke="#000" stroke-width="0.12" >1.18920</text>
<text transform="translate(1585.3,256) scale(0.967,1)" font-size="9.4px" fill="#000" stroke="#000" stroke-width="0.12" >1.18180</text>
<text transform="translate(1585.3,290) scale(0.967,1)" font-size="9.4px" fill="#000" stroke="#000" stroke-width="0.12" >1.17420</text>
<text transform="translate(1585.3,323) scale(0.967,1)" font-size="9.4px" fill="#000" stroke="#000" stroke-width="0.12" >1.16680</text>
<text transform="translate(1585.3,356) scale(0.967,1)" font-size="9.4px" fill="#000" stroke="#000" stroke-width="0.12" >1.15940</text>
<text transform="translate(1585.3,389) scale(0.967,1)" font-size="9.4px" fill="#000" stroke="#000" stroke-width="0.12" >1.15180</text>
<text transform="translate(1585.3,422) scale(0.967,1)" font-size="9.4px" fill="#000" stroke="#000" stroke-width="0.12" >1.14440</text>
<text transform="translate(1585.3,455) scale(0.967,1)" font-size="9.4px" fill="#000" stroke="#000" stroke-width="0.12" >1.13700</text>
<text transform="translate(1585.3,488) scale(0.967,1)" font-size="9.4px" fill="#000" stroke="#000" stroke-width="0.12" >1.12940</text>
<text transform="translate(1585.3,521) scale(0.967,1)" font-size="9.4px" fill="#000" stroke="#000" stroke-width="0.12" >1.12200</text>
<text transform="translate(1585.3,554) scale(0.967,1)" font-size="9.4px" fill="#000" stroke="#000" stroke-width="0.12" >1.11460</text>
<rect x="1581" y="32" width="41" height="11" fill="#ff0000" shape-rendering="crispEdges"/>
<text transform="translate(1585.3,41) scale(0.967,1)" font-size="9.4px" fill="#fff" stroke="#fff" stroke-width="0.12" >1.23022</text>
<rect x="1581" y="54" width="41" height="11" fill="#000000" shape-rendering="crispEdges"/>
<text transform="translate(1585.3,63) scale(0.967,1)" font-size="9.4px" fill="#fff" stroke="#fff" stroke-width="0.12" >1.22552</text>
<rect x="1581" y="77" width="41" height="11" fill="#ff0000" shape-rendering="crispEdges"/>
<text transform="translate(1585.3,86) scale(0.967,1)" font-size="9.4px" fill="#fff" stroke="#fff" stroke-width="0.12" >1.22012</text>
<rect x="1581" y="122" width="41" height="11" fill="#00ff00" shape-rendering="crispEdges"/>
<text transform="translate(1585.3,131) scale(0.967,1)" font-size="9.4px" fill="#fff" stroke="#fff" stroke-width="0.12" >1.21000</text>
<rect x="1581" y="166" width="41" height="11" fill="#0000ff" shape-rendering="crispEdges"/>
<text transform="translate(1585.3,175) scale(0.967,1)" font-size="9.4px" fill="#fff" stroke="#fff" stroke-width="0.12" >1.19992</text>
<rect x="1581" y="210" width="41" height="11" fill="#0000ff" shape-rendering="crispEdges"/>
<text transform="translate(1585.3,219) scale(0.967,1)" font-size="9.4px" fill="#fff" stroke="#fff" stroke-width="0.12" >1.19008</text>
<g shape-rendering="crispEdges">
<rect x="4" y="585" width="3" height="1" fill="#c0c0c0"/>
<rect x="10" y="585" width="3" height="1" fill="#c0c0c0"/>
<rect x="16" y="585" width="3" height="1" fill="#c0c0c0"/>
<rect x="22" y="585" width="3" height="1" fill="#c0c0c0"/>
<rect x="28" y="585" width="3" height="1" fill="#c0c0c0"/>
<rect x="34" y="585" width="3" height="1" fill="#c0c0c0"/>
<rect x="40" y="585" width="3" height="1" fill="#c0c0c0"/>
<rect x="46" y="585" width="3" height="1" fill="#c0c0c0"/>
<rect x="52" y="585" width="3" height="1" fill="#c0c0c0"/>
<rect x="58" y="585" width="3" height="1" fill="#c0c0c0"/>
<rect x="64" y="585" width="3" height="1" fill="#c0c0c0"/>
<rect x="70" y="585" width="3" height="1" fill="#c0c0c0"/>
<rect x="76" y="585" width="3" height="1" fill="#c0c0c0"/>
<rect x="82" y="585" width="3" height="1" fill="#c0c0c0"/>
<rect x="88" y="585" width="3" height="1" fill="#c0c0c0"/>
<rect x="94" y="585" width="3" height="1" fill="#c0c0c0"/>
<rect x="100" y="585" width="3" height="1" fill="#c0c0c0"/>
<rect x="106" y="585" width="3" height="1" fill="#c0c0c0"/>
<rect x="112" y="585" width="3" height="1" fill="#c0c0c0"/>
<rect x="118" y="585" width="3" height="1" fill="#c0c0c0"/>
<rect x="124" y="585" width="3" height="1" fill="#c0c0c0"/>
<rect x="130" y="585" width="3" height="1" fill="#c0c0c0"/>
<rect x="136" y="585" width="3" height="1" fill="#c0c0c0"/>
<rect x="142" y="585" width="3" height="1" fill="#c0c0c0"/>
<rect x="148" y="585" width="3" height="1" fill="#c0c0c0"/>
<rect x="154" y="585" width="3" height="1" fill="#c0c0c0"/>
<rect x="160" y="585" width="3" height="1" fill="#c0c0c0"/>
<rect x="166" y="585" width="3" height="1" fill="#c0c0c0"/>
<rect x="172" y="585" width="3" height="1" fill="#c0c0c0"/>
<rect x="178" y="585" width="3" height="1" fill="#c0c0c0"/>
<rect x="184" y="585" width="3" height="1" fill="#c0c0c0"/>
<rect x="190" y="585" width="3" height="1" fill="#c0c0c0"/>
<rect x="196" y="585" width="3" height="1" fill="#c0c0c0"/>
<rect x="202" y="585" width="3" height="1" fill="#c0c0c0"/>
<rect x="208" y="585" width="3" height="1" fill="#c0c0c0"/>
<rect x="214" y="585" width="3" height="1" fill="#c0c0c0"/>
<rect x="220" y="585" width="3" height="1" fill="#c0c0c0"/>
<rect x="226" y="585" width="3" height="1" fill="#c0c0c0"/>
<rect x="232" y="585" width="3" height="1" fill="#c0c0c0"/>
<rect x="238" y="585" width="3" height="1" fill="#c0c0c0"/>
<rect x="244" y="585" width="3" height="1" fill="#c0c0c0"/>
<rect x="250" y="585" width="3" height="1" fill="#c0c0c0"/>
<rect x="256" y="585" width="3" height="1" fill="#c0c0c0"/>
<rect x="262" y="585" width="3" height="1" fill="#c0c0c0"/>
<rect x="268" y="585" width="3" height="1" fill="#c0c0c0"/>
<rect x="274" y="585" width="3" height="1" fill="#c0c0c0"/>
<rect x="280" y="585" width="3" height="1" fill="#c0c0c0"/>
<rect x="286" y="585" width="3" height="1" fill="#c0c0c0"/>
<rect x="292" y="585" width="3" height="1" fill="#c0c0c0"/>
<rect x="298" y="585" width="3" height="1" fill="#c0c0c0"/>
<rect x="304" y="585" width="3" height="1" fill="#c0c0c0"/>
<rect x="310" y="585" width="3" height="1" fill="#c0c0c0"/>
<rect x="316" y="585" width="3" height="1" fill="#c0c0c0"/>
<rect x="322" y="585" width="3" height="1" fill="#c0c0c0"/>
<rect x="328" y="585" width="3" height="1" fill="#c0c0c0"/>
<rect x="334" y="585" width="3" height="1" fill="#c0c0c0"/>
<rect x="340" y="585" width="3" height="1" fill="#c0c0c0"/>
<rect x="346" y="585" width="3" height="1" fill="#c0c0c0"/>
<rect x="352" y="585" width="3" height="1" fill="#c0c0c0"/>
<rect x="358" y="585" width="3" height="1" fill="#c0c0c0"/>
<rect x="364" y="585" width="3" height="1" fill="#c0c0c0"/>
<rect x="370" y="585" width="3" height="1" fill="#c0c0c0"/>
<rect x="376" y="585" width="3" height="1" fill="#c0c0c0"/>
<rect x="382" y="585" width="3" height="1" fill="#c0c0c0"/>
<rect x="388" y="585" width="3" height="1" fill="#c0c0c0"/>
<rect x="394" y="585" width="3" height="1" fill="#c0c0c0"/>
<rect x="400" y="585" width="3" height="1" fill="#c0c0c0"/>
<rect x="406" y="585" width="3" height="1" fill="#c0c0c0"/>
<rect x="412" y="585" width="3" height="1" fill="#c0c0c0"/>
<rect x="418" y="585" width="3" height="1" fill="#c0c0c0"/>
<rect x="424" y="585" width="3" height="1" fill="#c0c0c0"/>
<rect x="430" y="585" width="3" height="1" fill="#c0c0c0"/>
<rect x="436" y="585" width="3" height="1" fill="#c0c0c0"/>
<rect x="442" y="585" width="3" height="1" fill="#c0c0c0"/>
<rect x="448" y="585" width="3" height="1" fill="#c0c0c0"/>
<rect x="454" y="585" width="3" height="1" fill="#c0c0c0"/>
<rect x="460" y="585" width="3" height="1" fill="#c0c0c0"/>
<rect x="466" y="585" width="3" height="1" fill="#c0c0c0"/>
<rect x="472" y="585" width="3" height="1" fill="#c0c0c0"/>
<rect x="478" y="585" width="3" height="1" fill="#c0c0c0"/>
<rect x="484" y="585" width="3" height="1" fill="#c0c0c0"/>
<rect x="490" y="585" width="3" height="1" fill="#c0c0c0"/>
<rect x="496" y="585" width="3" height="1" fill="#c0c0c0"/>
<rect x="502" y="585" width="3" height="1" fill="#c0c0c0"/>
<rect x="508" y="585" width="3" height="1" fill="#c0c0c0"/>
<rect x="514" y="585" width="3" height="1" fill="#c0c0c0"/>
<rect x="520" y="585" width="3" height="1" fill="#c0c0c0"/>
<rect x="526" y="585" width="3" height="1" fill="#c0c0c0"/>
<rect x="532" y="585" width="3" height="1" fill="#c0c0c0"/>
<rect x="538" y="585" width="3" height="1" fill="#c0c0c0"/>
<rect x="544" y="585" width="3" height="1" fill="#c0c0c0"/>
<rect x="550" y="585" width="3" height="1" fill="#c0c0c0"/>
<rect x="556" y="585" width="3" height="1" fill="#c0c0c0"/>
<rect x="562" y="585" width="3" height="1" fill="#c0c0c0"/>
<rect x="568" y="585" width="3" height="1" fill="#c0c0c0"/>
<rect x="574" y="585" width="3" height="1" fill="#c0c0c0"/>
<rect x="580" y="585" width="3" height="1" fill="#c0c0c0"/>
<rect x="586" y="585" width="3" height="1" fill="#c0c0c0"/>
<rect x="592" y="585" width="3" height="1" fill="#c0c0c0"/>
<rect x="598" y="585" width="3" height="1" fill="#c0c0c0"/>
<rect x="604" y="585" width="3" height="1" fill="#c0c0c0"/>
<rect x="610" y="585" width="3" height="1" fill="#c0c0c0"/>
<rect x="616" y="585" width="3" height="1" fill="#c0c0c0"/>
<rect x="622" y="585" width="3" height="1" fill="#c0c0c0"/>
<rect x="628" y="585" width="3" height="1" fill="#c0c0c0"/>
<rect x="634" y="585" width="3" height="1" fill="#c0c0c0"/>
<rect x="640" y="585" width="3" height="1" fill="#c0c0c0"/>
<rect x="646" y="585" width="3" height="1" fill="#c0c0c0"/>
<rect x="652" y="585" width="3" height="1" fill="#c0c0c0"/>
<rect x="658" y="585" width="3" height="1" fill="#c0c0c0"/>
<rect x="664" y="585" width="3" height="1" fill="#c0c0c0"/>
<rect x="670" y="585" width="3" height="1" fill="#c0c0c0"/>
<rect x="676" y="585" width="3" height="1" fill="#c0c0c0"/>
<rect x="682" y="585" width="3" height="1" fill="#c0c0c0"/>
<rect x="688" y="585" width="3" height="1" fill="#c0c0c0"/>
<rect x="694" y="585" width="3" height="1" fill="#c0c0c0"/>
<rect x="700" y="585" width="3" height="1" fill="#c0c0c0"/>
<rect x="706" y="585" width="3" height="1" fill="#c0c0c0"/>
<rect x="712" y="585" width="3" height="1" fill="#c0c0c0"/>
<rect x="718" y="585" width="3" height="1" fill="#c0c0c0"/>
<rect x="724" y="585" width="3" height="1" fill="#c0c0c0"/>
<rect x="730" y="585" width="3" height="1" fill="#c0c0c0"/>
<rect x="736" y="585" width="3" height="1" fill="#c0c0c0"/>
<rect x="742" y="585" width="3" height="1" fill="#c0c0c0"/>
<rect x="748" y="585" width="3" height="1" fill="#c0c0c0"/>
<rect x="754" y="585" width="3" height="1" fill="#c0c0c0"/>
<rect x="760" y="585" width="3" height="1" fill="#c0c0c0"/>
<rect x="766" y="585" width="3" height="1" fill="#c0c0c0"/>
<rect x="772" y="585" width="3" height="1" fill="#c0c0c0"/>
<rect x="778" y="585" width="3" height="1" fill="#c0c0c0"/>
<rect x="784" y="585" width="3" height="1" fill="#c0c0c0"/>
<rect x="790" y="585" width="3" height="1" fill="#c0c0c0"/>
<rect x="796" y="585" width="3" height="1" fill="#c0c0c0"/>
<rect x="802" y="585" width="3" height="1" fill="#c0c0c0"/>
<rect x="808" y="585" width="3" height="1" fill="#c0c0c0"/>
<rect x="814" y="585" width="3" height="1" fill="#c0c0c0"/>
<rect x="820" y="585" width="3" height="1" fill="#c0c0c0"/>
<rect x="826" y="585" width="3" height="1" fill="#c0c0c0"/>
<rect x="832" y="585" width="3" height="1" fill="#c0c0c0"/>
<rect x="838" y="585" width="3" height="1" fill="#c0c0c0"/>
<rect x="844" y="585" width="3" height="1" fill="#c0c0c0"/>
<rect x="850" y="585" width="3" height="1" fill="#c0c0c0"/>
<rect x="856" y="585" width="3" height="1" fill="#c0c0c0"/>
<rect x="862" y="585" width="3" height="1" fill="#c0c0c0"/>
<rect x="868" y="585" width="3" height="1" fill="#c0c0c0"/>
<rect x="874" y="585" width="3" height="1" fill="#c0c0c0"/>
<rect x="880" y="585" width="3" height="1" fill="#c0c0c0"/>
<rect x="886" y="585" width="3" height="1" fill="#c0c0c0"/>
<rect x="892" y="585" width="3" height="1" fill="#c0c0c0"/>
<rect x="898" y="585" width="3" height="1" fill="#c0c0c0"/>
<rect x="904" y="585" width="3" height="1" fill="#c0c0c0"/>
<rect x="910" y="585" width="3" height="1" fill="#c0c0c0"/>
<rect x="916" y="585" width="3" height="1" fill="#c0c0c0"/>
<rect x="922" y="585" width="3" height="1" fill="#c0c0c0"/>
<rect x="928" y="585" width="3" height="1" fill="#c0c0c0"/>
<rect x="934" y="585" width="3" height="1" fill="#c0c0c0"/>
<rect x="940" y="585" width="3" height="1" fill="#c0c0c0"/>
<rect x="946" y="585" width="3" height="1" fill="#c0c0c0"/>
<rect x="952" y="585" width="3" height="1" fill="#c0c0c0"/>
<rect x="958" y="585" width="3" height="1" fill="#c0c0c0"/>
<rect x="964" y="585" width="3" height="1" fill="#c0c0c0"/>
<rect x="970" y="585" width="3" height="1" fill="#c0c0c0"/>
<rect x="976" y="585" width="3" height="1" fill="#c0c0c0"/>
<rect x="982" y="585" width="3" height="1" fill="#c0c0c0"/>
<rect x="988" y="585" width="3" height="1" fill="#c0c0c0"/>
<rect x="994" y="585" width="3" height="1" fill="#c0c0c0"/>
<rect x="1000" y="585" width="3" height="1" fill="#c0c0c0"/>
<rect x="1006" y="585" width="3" height="1" fill="#c0c0c0"/>
<rect x="1012" y="585" width="3" height="1" fill="#c0c0c0"/>
<rect x="1018" y="585" width="3" height="1" fill="#c0c0c0"/>
<rect x="1024" y="585" width="3" height="1" fill="#c0c0c0"/>
<rect x="1030" y="585" width="3" height="1" fill="#c0c0c0"/>
<rect x="1036" y="585" width="3" height="1" fill="#c0c0c0"/>
<rect x="1042" y="585" width="3" height="1" fill="#c0c0c0"/>
<rect x="1048" y="585" width="3" height="1" fill="#c0c0c0"/>
<rect x="1054" y="585" width="3" height="1" fill="#c0c0c0"/>
<rect x="1060" y="585" width="3" height="1" fill="#c0c0c0"/>
<rect x="1066" y="585" width="3" height="1" fill="#c0c0c0"/>
<rect x="1072" y="585" width="3" height="1" fill="#c0c0c0"/>
<rect x="1078" y="585" width="3" height="1" fill="#c0c0c0"/>
<rect x="1084" y="585" width="3" height="1" fill="#c0c0c0"/>
<rect x="1090" y="585" width="3" height="1" fill="#c0c0c0"/>
<rect x="1096" y="585" width="3" height="1" fill="#c0c0c0"/>
<rect x="1102" y="585" width="3" height="1" fill="#c0c0c0"/>
<rect x="1108" y="585" width="3" height="1" fill="#c0c0c0"/>
<rect x="1114" y="585" width="3" height="1" fill="#c0c0c0"/>
<rect x="1120" y="585" width="3" height="1" fill="#c0c0c0"/>
<rect x="1126" y="585" width="3" height="1" fill="#c0c0c0"/>
<rect x="1132" y="585" width="3" height="1" fill="#c0c0c0"/>
<rect x="1138" y="585" width="3" height="1" fill="#c0c0c0"/>
<rect x="1144" y="585" width="3" height="1" fill="#c0c0c0"/>
<rect x="1150" y="585" width="3" height="1" fill="#c0c0c0"/>
<rect x="1156" y="585" width="3" height="1" fill="#c0c0c0"/>
<rect x="1162" y="585" width="3" height="1" fill="#c0c0c0"/>
<rect x="1168" y="585" width="3" height="1" fill="#c0c0c0"/>
<rect x="1174" y="585" width="3" height="1" fill="#c0c0c0"/>
<rect x="1180" y="585" width="3" height="1" fill="#c0c0c0"/>
<rect x="1186" y="585" width="3" height="1" fill="#c0c0c0"/>
<rect x="1192" y="585" width="3" height="1" fill="#c0c0c0"/>
<rect x="1198" y="585" width="3" height="1" fill="#c0c0c0"/>
<rect x="1204" y="585" width="3" height="1" fill="#c0c0c0"/>
<rect x="1210" y="585" width="3" height="1" fill="#c0c0c0"/>
<rect x="1216" y="585" width="3" height="1" fill="#c0c0c0"/>
<rect x="1222" y="585" width="3" height="1" fill="#c0c0c0"/>
<rect x="1228" y="585" width="3" height="1" fill="#c0c0c0"/>
<rect x="1234" y="585" width="3" height="1" fill="#c0c0c0"/>
<rect x="1240" y="585" width="3" height="1" fill="#c0c0c0"/>
<rect x="1246" y="585" width="3" height="1" fill="#c0c0c0"/>
<rect x="1252" y="585" width="3" height="1" fill="#c0c0c0"/>
<rect x="1258" y="585" width="3" height="1" fill="#c0c0c0"/>
<rect x="1264" y="585" width="3" height="1" fill="#c0c0c0"/>
<rect x="1270" y="585" width="3" height="1" fill="#c0c0c0"/>
<rect x="1276" y="585" width="3" height="1" fill="#c0c0c0"/>
<rect x="1282" y="585" width="3" height="1" fill="#c0c0c0"/>
<rect x="1288" y="585" width="3" height="1" fill="#c0c0c0"/>
<rect x="1294" y="585" width="3" height="1" fill="#c0c0c0"/>
<rect x="1300" y="585" width="3" height="1" fill="#c0c0c0"/>
<rect x="1306" y="585" width="3" height="1" fill="#c0c0c0"/>
<rect x="1312" y="585" width="3" height="1" fill="#c0c0c0"/>
<rect x="1318" y="585" width="3" height="1" fill="#c0c0c0"/>
<rect x="1324" y="585" width="3" height="1" fill="#c0c0c0"/>
<rect x="1330" y="585" width="3" height="1" fill="#c0c0c0"/>
<rect x="1336" y="585" width="3" height="1" fill="#c0c0c0"/>
<rect x="1342" y="585" width="3" height="1" fill="#c0c0c0"/>
<rect x="1348" y="585" width="3" height="1" fill="#c0c0c0"/>
<rect x="1354" y="585" width="3" height="1" fill="#c0c0c0"/>
<rect x="1360" y="585" width="3" height="1" fill="#c0c0c0"/>
<rect x="1366" y="585" width="3" height="1" fill="#c0c0c0"/>
<rect x="1372" y="585" width="3" height="1" fill="#c0c0c0"/>
<rect x="1378" y="585" width="3" height="1" fill="#c0c0c0"/>
<rect x="1384" y="585" width="3" height="1" fill="#c0c0c0"/>
<rect x="1390" y="585" width="3" height="1" fill="#c0c0c0"/>
<rect x="1396" y="585" width="3" height="1" fill="#c0c0c0"/>
<rect x="1402" y="585" width="3" height="1" fill="#c0c0c0"/>
<rect x="1408" y="585" width="3" height="1" fill="#c0c0c0"/>
<rect x="1414" y="585" width="3" height="1" fill="#c0c0c0"/>
<rect x="1420" y="585" width="3" height="1" fill="#c0c0c0"/>
<rect x="1426" y="585" width="3" height="1" fill="#c0c0c0"/>
<rect x="1432" y="585" width="3" height="1" fill="#c0c0c0"/>
<rect x="1438" y="585" width="3" height="1" fill="#c0c0c0"/>
<rect x="1444" y="585" width="3" height="1" fill="#c0c0c0"/>
<rect x="1450" y="585" width="3" height="1" fill="#c0c0c0"/>
<rect x="1456" y="585" width="3" height="1" fill="#c0c0c0"/>
<rect x="1462" y="585" width="3" height="1" fill="#c0c0c0"/>
<rect x="1468" y="585" width="3" height="1" fill="#c0c0c0"/>
<rect x="1474" y="585" width="3" height="1" fill="#c0c0c0"/>
<rect x="1480" y="585" width="3" height="1" fill="#c0c0c0"/>
<rect x="1486" y="585" width="3" height="1" fill="#c0c0c0"/>
<rect x="1492" y="585" width="3" height="1" fill="#c0c0c0"/>
<rect x="1498" y="585" width="3" height="1" fill="#c0c0c0"/>
<rect x="1504" y="585" width="3" height="1" fill="#c0c0c0"/>
<rect x="1510" y="585" width="3" height="1" fill="#c0c0c0"/>
<rect x="1516" y="585" width="3" height="1" fill="#c0c0c0"/>
<rect x="1522" y="585" width="3" height="1" fill="#c0c0c0"/>
<rect x="1528" y="585" width="3" height="1" fill="#c0c0c0"/>
<rect x="1534" y="585" width="3" height="1" fill="#c0c0c0"/>
<rect x="1540" y="585" width="3" height="1" fill="#c0c0c0"/>
<rect x="1546" y="585" width="3" height="1" fill="#c0c0c0"/>
<rect x="1552" y="585" width="3" height="1" fill="#c0c0c0"/>
<rect x="1558" y="585" width="3" height="1" fill="#c0c0c0"/>
<rect x="1564" y="585" width="3" height="1" fill="#c0c0c0"/>
<rect x="1570" y="585" width="3" height="1" fill="#c0c0c0"/>
<rect x="1576" y="585" width="3" height="1" fill="#c0c0c0"/>
<rect x="4" y="622" width="3" height="1" fill="#c0c0c0"/>
<rect x="10" y="622" width="3" height="1" fill="#c0c0c0"/>
<rect x="16" y="622" width="3" height="1" fill="#c0c0c0"/>
<rect x="22" y="622" width="3" height="1" fill="#c0c0c0"/>
<rect x="28" y="622" width="3" height="1" fill="#c0c0c0"/>
<rect x="34" y="622" width="3" height="1" fill="#c0c0c0"/>
<rect x="40" y="622" width="3" height="1" fill="#c0c0c0"/>
<rect x="46" y="622" width="3" height="1" fill="#c0c0c0"/>
<rect x="52" y="622" width="3" height="1" fill="#c0c0c0"/>
<rect x="58" y="622" width="3" height="1" fill="#c0c0c0"/>
<rect x="64" y="622" width="3" height="1" fill="#c0c0c0"/>
<rect x="70" y="622" width="3" height="1" fill="#c0c0c0"/>
<rect x="76" y="622" width="3" height="1" fill="#c0c0c0"/>
<rect x="82" y="622" width="3" height="1" fill="#c0c0c0"/>
<rect x="88" y="622" width="3" height="1" fill="#c0c0c0"/>
<rect x="94" y="622" width="3" height="1" fill="#c0c0c0"/>
<rect x="100" y="622" width="3" height="1" fill="#c0c0c0"/>
<rect x="106" y="622" width="3" height="1" fill="#c0c0c0"/>
<rect x="112" y="622" width="3" height="1" fill="#c0c0c0"/>
<rect x="118" y="622" width="3" height="1" fill="#c0c0c0"/>
<rect x="124" y="622" width="3" height="1" fill="#c0c0c0"/>
<rect x="130" y="622" width="3" height="1" fill="#c0c0c0"/>
<rect x="136" y="622" width="3" height="1" fill="#c0c0c0"/>
<rect x="142" y="622" width="3" height="1" fill="#c0c0c0"/>
<rect x="148" y="622" width="3" height="1" fill="#c0c0c0"/>
<rect x="154" y="622" width="3" height="1" fill="#c0c0c0"/>
<rect x="160" y="622" width="3" height="1" fill="#c0c0c0"/>
<rect x="166" y="622" width="3" height="1" fill="#c0c0c0"/>
<rect x="172" y="622" width="3" height="1" fill="#c0c0c0"/>
<rect x="178" y="622" width="3" height="1" fill="#c0c0c0"/>
<rect x="184" y="622" width="3" height="1" fill="#c0c0c0"/>
<rect x="190" y="622" width="3" height="1" fill="#c0c0c0"/>
<rect x="196" y="622" width="3" height="1" fill="#c0c0c0"/>
<rect x="202" y="622" width="3" height="1" fill="#c0c0c0"/>
<rect x="208" y="622" width="3" height="1" fill="#c0c0c0"/>
<rect x="214" y="622" width="3" height="1" fill="#c0c0c0"/>
<rect x="220" y="622" width="3" height="1" fill="#c0c0c0"/>
<rect x="226" y="622" width="3" height="1" fill="#c0c0c0"/>
<rect x="232" y="622" width="3" height="1" fill="#c0c0c0"/>
<rect x="238" y="622" width="3" height="1" fill="#c0c0c0"/>
<rect x="244" y="622" width="3" height="1" fill="#c0c0c0"/>
<rect x="250" y="622" width="3" height="1" fill="#c0c0c0"/>
<rect x="256" y="622" width="3" height="1" fill="#c0c0c0"/>
<rect x="262" y="622" width="3" height="1" fill="#c0c0c0"/>
<rect x="268" y="622" width="3" height="1" fill="#c0c0c0"/>
<rect x="274" y="622" width="3" height="1" fill="#c0c0c0"/>
<rect x="280" y="622" width="3" height="1" fill="#c0c0c0"/>
<rect x="286" y="622" width="3" height="1" fill="#c0c0c0"/>
<rect x="292" y="622" width="3" height="1" fill="#c0c0c0"/>
<rect x="298" y="622" width="3" height="1" fill="#c0c0c0"/>
<rect x="304" y="622" width="3" height="1" fill="#c0c0c0"/>
<rect x="310" y="622" width="3" height="1" fill="#c0c0c0"/>
<rect x="316" y="622" width="3" height="1" fill="#c0c0c0"/>
<rect x="322" y="622" width="3" height="1" fill="#c0c0c0"/>
<rect x="328" y="622" width="3" height="1" fill="#c0c0c0"/>
<rect x="334" y="622" width="3" height="1" fill="#c0c0c0"/>
<rect x="340" y="622" width="3" height="1" fill="#c0c0c0"/>
<rect x="346" y="622" width="3" height="1" fill="#c0c0c0"/>
<rect x="352" y="622" width="3" height="1" fill="#c0c0c0"/>
<rect x="358" y="622" width="3" height="1" fill="#c0c0c0"/>
<rect x="364" y="622" width="3" height="1" fill="#c0c0c0"/>
<rect x="370" y="622" width="3" height="1" fill="#c0c0c0"/>
<rect x="376" y="622" width="3" height="1" fill="#c0c0c0"/>
<rect x="382" y="622" width="3" height="1" fill="#c0c0c0"/>
<rect x="388" y="622" width="3" height="1" fill="#c0c0c0"/>
<rect x="394" y="622" width="3" height="1" fill="#c0c0c0"/>
<rect x="400" y="622" width="3" height="1" fill="#c0c0c0"/>
<rect x="406" y="622" width="3" height="1" fill="#c0c0c0"/>
<rect x="412" y="622" width="3" height="1" fill="#c0c0c0"/>
<rect x="418" y="622" width="3" height="1" fill="#c0c0c0"/>
<rect x="424" y="622" width="3" height="1" fill="#c0c0c0"/>
<rect x="430" y="622" width="3" height="1" fill="#c0c0c0"/>
<rect x="436" y="622" width="3" height="1" fill="#c0c0c0"/>
<rect x="442" y="622" width="3" height="1" fill="#c0c0c0"/>
<rect x="448" y="622" width="3" height="1" fill="#c0c0c0"/>
<rect x="454" y="622" width="3" height="1" fill="#c0c0c0"/>
<rect x="460" y="622" width="3" height="1" fill="#c0c0c0"/>
<rect x="466" y="622" width="3" height="1" fill="#c0c0c0"/>
<rect x="472" y="622" width="3" height="1" fill="#c0c0c0"/>
<rect x="478" y="622" width="3" height="1" fill="#c0c0c0"/>
<rect x="484" y="622" width="3" height="1" fill="#c0c0c0"/>
<rect x="490" y="622" width="3" height="1" fill="#c0c0c0"/>
<rect x="496" y="622" width="3" height="1" fill="#c0c0c0"/>
<rect x="502" y="622" width="3" height="1" fill="#c0c0c0"/>
<rect x="508" y="622" width="3" height="1" fill="#c0c0c0"/>
<rect x="514" y="622" width="3" height="1" fill="#c0c0c0"/>
<rect x="520" y="622" width="3" height="1" fill="#c0c0c0"/>
<rect x="526" y="622" width="3" height="1" fill="#c0c0c0"/>
<rect x="532" y="622" width="3" height="1" fill="#c0c0c0"/>
<rect x="538" y="622" width="3" height="1" fill="#c0c0c0"/>
<rect x="544" y="622" width="3" height="1" fill="#c0c0c0"/>
<rect x="550" y="622" width="3" height="1" fill="#c0c0c0"/>
<rect x="556" y="622" width="3" height="1" fill="#c0c0c0"/>
<rect x="562" y="622" width="3" height="1" fill="#c0c0c0"/>
<rect x="568" y="622" width="3" height="1" fill="#c0c0c0"/>
<rect x="574" y="622" width="3" height="1" fill="#c0c0c0"/>
<rect x="580" y="622" width="3" height="1" fill="#c0c0c0"/>
<rect x="586" y="622" width="3" height="1" fill="#c0c0c0"/>
<rect x="592" y="622" width="3" height="1" fill="#c0c0c0"/>
<rect x="598" y="622" width="3" height="1" fill="#c0c0c0"/>
<rect x="604" y="622" width="3" height="1" fill="#c0c0c0"/>
<rect x="610" y="622" width="3" height="1" fill="#c0c0c0"/>
<rect x="616" y="622" width="3" height="1" fill="#c0c0c0"/>
<rect x="622" y="622" width="3" height="1" fill="#c0c0c0"/>
<rect x="628" y="622" width="3" height="1" fill="#c0c0c0"/>
<rect x="634" y="622" width="3" height="1" fill="#c0c0c0"/>
<rect x="640" y="622" width="3" height="1" fill="#c0c0c0"/>
<rect x="646" y="622" width="3" height="1" fill="#c0c0c0"/>
<rect x="652" y="622" width="3" height="1" fill="#c0c0c0"/>
<rect x="658" y="622" width="3" height="1" fill="#c0c0c0"/>
<rect x="664" y="622" width="3" height="1" fill="#c0c0c0"/>
<rect x="670" y="622" width="3" height="1" fill="#c0c0c0"/>
<rect x="676" y="622" width="3" height="1" fill="#c0c0c0"/>
<rect x="682" y="622" width="3" height="1" fill="#c0c0c0"/>
<rect x="688" y="622" width="3" height="1" fill="#c0c0c0"/>
<rect x="694" y="622" width="3" height="1" fill="#c0c0c0"/>
<rect x="700" y="622" width="3" height="1" fill="#c0c0c0"/>
<rect x="706" y="622" width="3" height="1" fill="#c0c0c0"/>
<rect x="712" y="622" width="3" height="1" fill="#c0c0c0"/>
<rect x="718" y="622" width="3" height="1" fill="#c0c0c0"/>
<rect x="724" y="622" width="3" height="1" fill="#c0c0c0"/>
<rect x="730" y="622" width="3" height="1" fill="#c0c0c0"/>
<rect x="736" y="622" width="3" height="1" fill="#c0c0c0"/>
<rect x="742" y="622" width="3" height="1" fill="#c0c0c0"/>
<rect x="748" y="622" width="3" height="1" fill="#c0c0c0"/>
<rect x="754" y="622" width="3" height="1" fill="#c0c0c0"/>
<rect x="760" y="622" width="3" height="1" fill="#c0c0c0"/>
<rect x="766" y="622" width="3" height="1" fill="#c0c0c0"/>
<rect x="772" y="622" width="3" height="1" fill="#c0c0c0"/>
<rect x="778" y="622" width="3" height="1" fill="#c0c0c0"/>
<rect x="784" y="622" width="3" height="1" fill="#c0c0c0"/>
<rect x="790" y="622" width="3" height="1" fill="#c0c0c0"/>
<rect x="796" y="622" width="3" height="1" fill="#c0c0c0"/>
<rect x="802" y="622" width="3" height="1" fill="#c0c0c0"/>
<rect x="808" y="622" width="3" height="1" fill="#c0c0c0"/>
<rect x="814" y="622" width="3" height="1" fill="#c0c0c0"/>
<rect x="820" y="622" width="3" height="1" fill="#c0c0c0"/>
<rect x="826" y="622" width="3" height="1" fill="#c0c0c0"/>
<rect x="832" y="622" width="3" height="1" fill="#c0c0c0"/>
<rect x="838" y="622" width="3" height="1" fill="#c0c0c0"/>
<rect x="844" y="622" width="3" height="1" fill="#c0c0c0"/>
<rect x="850" y="622" width="3" height="1" fill="#c0c0c0"/>
<rect x="856" y="622" width="3" height="1" fill="#c0c0c0"/>
<rect x="862" y="622" width="3" height="1" fill="#c0c0c0"/>
<rect x="868" y="622" width="3" height="1" fill="#c0c0c0"/>
<rect x="874" y="622" width="3" height="1" fill="#c0c0c0"/>
<rect x="880" y="622" width="3" height="1" fill="#c0c0c0"/>
<rect x="886" y="622" width="3" height="1" fill="#c0c0c0"/>
<rect x="892" y="622" width="3" height="1" fill="#c0c0c0"/>
<rect x="898" y="622" width="3" height="1" fill="#c0c0c0"/>
<rect x="904" y="622" width="3" height="1" fill="#c0c0c0"/>
<rect x="910" y="622" width="3" height="1" fill="#c0c0c0"/>
<rect x="916" y="622" width="3" height="1" fill="#c0c0c0"/>
<rect x="922" y="622" width="3" height="1" fill="#c0c0c0"/>
<rect x="928" y="622" width="3" height="1" fill="#c0c0c0"/>
<rect x="934" y="622" width="3" height="1" fill="#c0c0c0"/>
<rect x="940" y="622" width="3" height="1" fill="#c0c0c0"/>
<rect x="946" y="622" width="3" height="1" fill="#c0c0c0"/>
<rect x="952" y="622" width="3" height="1" fill="#c0c0c0"/>
<rect x="958" y="622" width="3" height="1" fill="#c0c0c0"/>
<rect x="964" y="622" width="3" height="1" fill="#c0c0c0"/>
<rect x="970" y="622" width="3" height="1" fill="#c0c0c0"/>
<rect x="976" y="622" width="3" height="1" fill="#c0c0c0"/>
<rect x="982" y="622" width="3" height="1" fill="#c0c0c0"/>
<rect x="988" y="622" width="3" height="1" fill="#c0c0c0"/>
<rect x="994" y="622" width="3" height="1" fill="#c0c0c0"/>
<rect x="1000" y="622" width="3" height="1" fill="#c0c0c0"/>
<rect x="1006" y="622" width="3" height="1" fill="#c0c0c0"/>
<rect x="1012" y="622" width="3" height="1" fill="#c0c0c0"/>
<rect x="1018" y="622" width="3" height="1" fill="#c0c0c0"/>
<rect x="1024" y="622" width="3" height="1" fill="#c0c0c0"/>
<rect x="1030" y="622" width="3" height="1" fill="#c0c0c0"/>
<rect x="1036" y="622" width="3" height="1" fill="#c0c0c0"/>
<rect x="1042" y="622" width="3" height="1" fill="#c0c0c0"/>
<rect x="1048" y="622" width="3" height="1" fill="#c0c0c0"/>
<rect x="1054" y="622" width="3" height="1" fill="#c0c0c0"/>
<rect x="1060" y="622" width="3" height="1" fill="#c0c0c0"/>
<rect x="1066" y="622" width="3" height="1" fill="#c0c0c0"/>
<rect x="1072" y="622" width="3" height="1" fill="#c0c0c0"/>
<rect x="1078" y="622" width="3" height="1" fill="#c0c0c0"/>
<rect x="1084" y="622" width="3" height="1" fill="#c0c0c0"/>
<rect x="1090" y="622" width="3" height="1" fill="#c0c0c0"/>
<rect x="1096" y="622" width="3" height="1" fill="#c0c0c0"/>
<rect x="1102" y="622" width="3" height="1" fill="#c0c0c0"/>
<rect x="1108" y="622" width="3" height="1" fill="#c0c0c0"/>
<rect x="1114" y="622" width="3" height="1" fill="#c0c0c0"/>
<rect x="1120" y="622" width="3" height="1" fill="#c0c0c0"/>
<rect x="1126" y="622" width="3" height="1" fill="#c0c0c0"/>
<rect x="1132" y="622" width="3" height="1" fill="#c0c0c0"/>
<rect x="1138" y="622" width="3" height="1" fill="#c0c0c0"/>
<rect x="1144" y="622" width="3" height="1" fill="#c0c0c0"/>
<rect x="1150" y="622" width="3" height="1" fill="#c0c0c0"/>
<rect x="1156" y="622" width="3" height="1" fill="#c0c0c0"/>
<rect x="1162" y="622" width="3" height="1" fill="#c0c0c0"/>
<rect x="1168" y="622" width="3" height="1" fill="#c0c0c0"/>
<rect x="1174" y="622" width="3" height="1" fill="#c0c0c0"/>
<rect x="1180" y="622" width="3" height="1" fill="#c0c0c0"/>
<rect x="1186" y="622" width="3" height="1" fill="#c0c0c0"/>
<rect x="1192" y="622" width="3" height="1" fill="#c0c0c0"/>
<rect x="1198" y="622" width="3" height="1" fill="#c0c0c0"/>
<rect x="1204" y="622" width="3" height="1" fill="#c0c0c0"/>
<rect x="1210" y="622" width="3" height="1" fill="#c0c0c0"/>
<rect x="1216" y="622" width="3" height="1" fill="#c0c0c0"/>
<rect x="1222" y="622" width="3" height="1" fill="#c0c0c0"/>
<rect x="1228" y="622" width="3" height="1" fill="#c0c0c0"/>
<rect x="1234" y="622" width="3" height="1" fill="#c0c0c0"/>
<rect x="1240" y="622" width="3" height="1" fill="#c0c0c0"/>
<rect x="1246" y="622" width="3" height="1" fill="#c0c0c0"/>
<rect x="1252" y="622" width="3" height="1" fill="#c0c0c0"/>
<rect x="1258" y="622" width="3" height="1" fill="#c0c0c0"/>
<rect x="1264" y="622" width="3" height="1" fill="#c0c0c0"/>
<rect x="1270" y="622" width="3" height="1" fill="#c0c0c0"/>
<rect x="1276" y="622" width="3" height="1" fill="#c0c0c0"/>
<rect x="1282" y="622" width="3" height="1" fill="#c0c0c0"/>
<rect x="1288" y="622" width="3" height="1" fill="#c0c0c0"/>
<rect x="1294" y="622" width="3" height="1" fill="#c0c0c0"/>
<rect x="1300" y="622" width="3" height="1" fill="#c0c0c0"/>
<rect x="1306" y="622" width="3" height="1" fill="#c0c0c0"/>
<rect x="1312" y="622" width="3" height="1" fill="#c0c0c0"/>
<rect x="1318" y="622" width="3" height="1" fill="#c0c0c0"/>
<rect x="1324" y="622" width="3" height="1" fill="#c0c0c0"/>
<rect x="1330" y="622" width="3" height="1" fill="#c0c0c0"/>
<rect x="1336" y="622" width="3" height="1" fill="#c0c0c0"/>
<rect x="1342" y="622" width="3" height="1" fill="#c0c0c0"/>
<rect x="1348" y="622" width="3" height="1" fill="#c0c0c0"/>
<rect x="1354" y="622" width="3" height="1" fill="#c0c0c0"/>
<rect x="1360" y="622" width="3" height="1" fill="#c0c0c0"/>
<rect x="1366" y="622" width="3" height="1" fill="#c0c0c0"/>
<rect x="1372" y="622" width="3" height="1" fill="#c0c0c0"/>
<rect x="1378" y="622" width="3" height="1" fill="#c0c0c0"/>
<rect x="1384" y="622" width="3" height="1" fill="#c0c0c0"/>
<rect x="1390" y="622" width="3" height="1" fill="#c0c0c0"/>
<rect x="1396" y="622" width="3" height="1" fill="#c0c0c0"/>
<rect x="1402" y="622" width="3" height="1" fill="#c0c0c0"/>
<rect x="1408" y="622" width="3" height="1" fill="#c0c0c0"/>
<rect x="1414" y="622" width="3" height="1" fill="#c0c0c0"/>
<rect x="1420" y="622" width="3" height="1" fill="#c0c0c0"/>
<rect x="1426" y="622" width="3" height="1" fill="#c0c0c0"/>
<rect x="1432" y="622" width="3" height="1" fill="#c0c0c0"/>
<rect x="1438" y="622" width="3" height="1" fill="#c0c0c0"/>
<rect x="1444" y="622" width="3" height="1" fill="#c0c0c0"/>
<rect x="1450" y="622" width="3" height="1" fill="#c0c0c0"/>
<rect x="1456" y="622" width="3" height="1" fill="#c0c0c0"/>
<rect x="1462" y="622" width="3" height="1" fill="#c0c0c0"/>
<rect x="1468" y="622" width="3" height="1" fill="#c0c0c0"/>
<rect x="1474" y="622" width="3" height="1" fill="#c0c0c0"/>
<rect x="1480" y="622" width="3" height="1" fill="#c0c0c0"/>
<rect x="1486" y="622" width="3" height="1" fill="#c0c0c0"/>
<rect x="1492" y="622" width="3" height="1" fill="#c0c0c0"/>
<rect x="1498" y="622" width="3" height="1" fill="#c0c0c0"/>
<rect x="1504" y="622" width="3" height="1" fill="#c0c0c0"/>
<rect x="1510" y="622" width="3" height="1" fill="#c0c0c0"/>
<rect x="1516" y="622" width="3" height="1" fill="#c0c0c0"/>
<rect x="1522" y="622" width="3" height="1" fill="#c0c0c0"/>
<rect x="1528" y="622" width="3" height="1" fill="#c0c0c0"/>
<rect x="1534" y="622" width="3" height="1" fill="#c0c0c0"/>
<rect x="1540" y="622" width="3" height="1" fill="#c0c0c0"/>
<rect x="1546" y="622" width="3" height="1" fill="#c0c0c0"/>
<rect x="1552" y="622" width="3" height="1" fill="#c0c0c0"/>
<rect x="1558" y="622" width="3" height="1" fill="#c0c0c0"/>
<rect x="1564" y="622" width="3" height="1" fill="#c0c0c0"/>
<rect x="1570" y="622" width="3" height="1" fill="#c0c0c0"/>
<rect x="1576" y="622" width="3" height="1" fill="#c0c0c0"/>
</g>
<polyline points="3,602.42 11,593.35 19,589.08 27,596.09 35,601.42 43,602.31 51,600.18 59,600.12 67,599.77 75,597.02 83,600.46 91,599.38 99,599.40 107,593.26 115,594.59 123,591.36 131,596.74 139,594.34 147,597.48 155,590.82 163,587.47 171,587.67 179,585.17 187,584.47 195,585.26 203,584.60 211,580.17 219,574.72 227,573.24 235,572.95 243,573.00 251,569.15 259,572.54 267,571.13 275,570.25 283,569.27 291,575.40 299,581.74 307,580.79 315,574.99 323,581.08 331,590.48 339,590.06 347,592.87 355,592.32 363,590.17 371,588.63 379,587.49 387,587.24 395,585.16 403,581.53 411,585.90 419,591.46 427,600.88 435,599.67 443,598.27 451,596.95 459,597.78 467,596.78 475,589.96 483,591.50 491,587.03 499,587.55 507,600.82 515,601.63 523,602.68 531,599.28 539,603.29 547,606.11 555,603.78 563,597.17 571,602.25 579,602.32 587,598.30 595,601.26 603,602.66 611,603.83 619,600.07 627,600.73 635,611.98 643,614.77 651,616.58 659,617.55 667,620.81 675,619.86 683,614.59 691,607.85 699,607.06 707,603.84 715,608.62 723,607.44 731,600.20 739,601.11 747,602.33 755,603.88 763,596.89 771,596.29 779,599.19 787,606.43 795,604.32 803,609.83 811,607.86 819,607.56 827,599.94 835,596.86 843,592.86 851,598.59 859,596.69 867,595.34 875,600.42 883,598.53 891,607.06 899,613.93 907,614.83 915,615.00 923,615.50 931,605.23 939,607.08 947,597.32 955,594.00 963,593.62 971,598.77 979,599.61 987,605.04 995,600.58 1003,599.94 1011,598.83 1019,598.76 1027,595.21 1035,595.59 1043,599.62 1051,598.18 1059,597.74 1067,603.06 1075,597.08 1083,594.77 1091,594.80 1099,591.20 1107,589.86 1115,589.53 1123,584.39 1131,581.64 1139,577.57 1147,580.74 1155,581.43 1163,582.15 1171,585.22 1179,590.31 1187,586.21 1195,590.42 1203,589.77 1211,588.86 1219,586.60 1227,584.17 1235,580.53 1243,579.95" fill="none" stroke="#1e90ff" stroke-width="1" shape-rendering="crispEdges"/>
<g shape-rendering="crispEdges">
<rect x="1580" y="557" width="2" height="1" fill="#000"/>
</g>
<text transform="translate(1583.2,566) scale(0.967,1)" font-size="9.4px" fill="#000" stroke="#000" stroke-width="0.12" >100</text>
<text transform="translate(1582.3,589) scale(0.967,1)" font-size="9.4px" fill="#000" stroke="#000" stroke-width="0.12" >70</text>
<text transform="translate(1582.3,626) scale(0.967,1)" font-size="9.4px" fill="#000" stroke="#000" stroke-width="0.12" >30</text>
<text transform="translate(1583.2,648) scale(0.967,1)" font-size="9.4px" fill="#000" stroke="#000" stroke-width="0.12" >0</text>
<text transform="translate(7,568) scale(0.99,1)" font-size="9.4px" fill="#000" stroke="#000" stroke-width="0.12" >RSI(14) 76.0468</text>
<g shape-rendering="crispEdges">
<rect x="3" y="699" width="1" height="25" fill="#c0c0c0"/>
<rect x="11" y="700" width="1" height="24" fill="#c0c0c0"/>
<rect x="19" y="698" width="1" height="26" fill="#c0c0c0"/>
<rect x="27" y="699" width="1" height="25" fill="#c0c0c0"/>
<rect x="35" y="702" width="1" height="22" fill="#c0c0c0"/>
<rect x="43" y="704" width="1" height="20" fill="#c0c0c0"/>
<rect x="51" y="706" width="1" height="18" fill="#c0c0c0"/>
<rect x="59" y="707" width="1" height="17" fill="#c0c0c0"/>
<rect x="67" y="709" width="1" height="15" fill="#c0c0c0"/>
<rect x="75" y="710" width="1" height="14" fill="#c0c0c0"/>
<rect x="83" y="711" width="1" height="13" fill="#c0c0c0"/>
<rect x="91" y="712" width="1" height="12" fill="#c0c0c0"/>
<rect x="99" y="712" width="1" height="12" fill="#c0c0c0"/>
<rect x="107" y="711" width="1" height="13" fill="#c0c0c0"/>
<rect x="115" y="710" width="1" height="14" fill="#c0c0c0"/>
<rect x="123" y="708" width="1" height="16" fill="#c0c0c0"/>
<rect x="131" y="708" width="1" height="16" fill="#c0c0c0"/>
<rect x="139" y="708" width="1" height="16" fill="#c0c0c0"/>
<rect x="147" y="708" width="1" height="16" fill="#c0c0c0"/>
<rect x="155" y="706" width="1" height="18" fill="#c0c0c0"/>
<rect x="163" y="703" width="1" height="21" fill="#c0c0c0"/>
<rect x="171" y="701" width="1" height="23" fill="#c0c0c0"/>
<rect x="179" y="699" width="1" height="25" fill="#c0c0c0"/>
<rect x="187" y="697" width="1" height="27" fill="#c0c0c0"/>
<rect x="195" y="696" width="1" height="28" fill="#c0c0c0"/>
<rect x="203" y="695" width="1" height="29" fill="#c0c0c0"/>
<rect x="211" y="693" width="1" height="31" fill="#c0c0c0"/>
<rect x="219" y="688" width="1" height="36" fill="#c0c0c0"/>
<rect x="227" y="683" width="1" height="41" fill="#c0c0c0"/>
<rect x="235" y="679" width="1" height="45" fill="#c0c0c0"/>
<rect x="243" y="677" width="1" height="47" fill="#c0c0c0"/>
<rect x="251" y="671" width="1" height="53" fill="#c0c0c0"/>
<rect x="259" y="668" width="1" height="56" fill="#c0c0c0"/>
<rect x="267" y="664" width="1" height="60" fill="#c0c0c0"/>
<rect x="275" y="662" width="1" height="62" fill="#c0c0c0"/>
<rect x="283" y="659" width="1" height="65" fill="#c0c0c0"/>
<rect x="291" y="659" width="1" height="65" fill="#c0c0c0"/>
<rect x="299" y="661" width="1" height="63" fill="#c0c0c0"/>
<rect x="307" y="663" width="1" height="61" fill="#c0c0c0"/>
<rect x="315" y="660" width="1" height="64" fill="#c0c0c0"/>
<rect x="323" y="660" width="1" height="64" fill="#c0c0c0"/>
<rect x="331" y="664" width="1" height="60" fill="#c0c0c0"/>
<rect x="339" y="667" width="1" height="57" fill="#c0c0c0"/>
<rect x="347" y="671" width="1" height="53" fill="#c0c0c0"/>
<rect x="355" y="675" width="1" height="49" fill="#c0c0c0"/>
<rect x="363" y="677" width="1" height="47" fill="#c0c0c0"/>
<rect x="371" y="679" width="1" height="45" fill="#c0c0c0"/>
<rect x="379" y="680" width="1" height="44" fill="#c0c0c0"/>
<rect x="387" y="681" width="1" height="43" fill="#c0c0c0"/>
<rect x="395" y="681" width="1" height="43" fill="#c0c0c0"/>
<rect x="403" y="679" width="1" height="45" fill="#c0c0c0"/>
<rect x="411" y="680" width="1" height="44" fill="#c0c0c0"/>
<rect x="419" y="682" width="1" height="42" fill="#c0c0c0"/>
<rect x="427" y="687" width="1" height="37" fill="#c0c0c0"/>
<rect x="435" y="692" width="1" height="32" fill="#c0c0c0"/>
<rect x="443" y="695" width="1" height="29" fill="#c0c0c0"/>
<rect x="451" y="697" width="1" height="27" fill="#c0c0c0"/>
<rect x="459" y="699" width="1" height="25" fill="#c0c0c0"/>
<rect x="467" y="701" width="1" height="23" fill="#c0c0c0"/>
<rect x="475" y="699" width="1" height="25" fill="#c0c0c0"/>
<rect x="483" y="699" width="1" height="25" fill="#c0c0c0"/>
<rect x="491" y="696" width="1" height="28" fill="#c0c0c0"/>
<rect x="499" y="695" width="1" height="29" fill="#c0c0c0"/>
<rect x="507" y="698" width="1" height="26" fill="#c0c0c0"/>
<rect x="515" y="701" width="1" height="23" fill="#c0c0c0"/>
<rect x="523" y="705" width="1" height="19" fill="#c0c0c0"/>
<rect x="531" y="706" width="1" height="18" fill="#c0c0c0"/>
<rect x="539" y="709" width="1" height="15" fill="#c0c0c0"/>
<rect x="547" y="712" width="1" height="12" fill="#c0c0c0"/>
<rect x="555" y="714" width="1" height="10" fill="#c0c0c0"/>
<rect x="563" y="713" width="1" height="11" fill="#c0c0c0"/>
<rect x="571" y="714" width="1" height="10" fill="#c0c0c0"/>
<rect x="579" y="715" width="1" height="9" fill="#c0c0c0"/>
<rect x="587" y="714" width="1" height="10" fill="#c0c0c0"/>
<rect x="595" y="715" width="1" height="9" fill="#c0c0c0"/>
<rect x="603" y="716" width="1" height="8" fill="#c0c0c0"/>
<rect x="611" y="717" width="1" height="7" fill="#c0c0c0"/>
<rect x="619" y="717" width="1" height="7" fill="#c0c0c0"/>
<rect x="627" y="717" width="1" height="7" fill="#c0c0c0"/>
<rect x="635" y="721" width="1" height="3" fill="#c0c0c0"/>
<rect x="643" y="723" width="1" height="3" fill="#c0c0c0"/>
<rect x="651" y="723" width="1" height="8" fill="#c0c0c0"/>
<rect x="659" y="723" width="1" height="12" fill="#c0c0c0"/>
<rect x="667" y="723" width="1" height="17" fill="#c0c0c0"/>
<rect x="675" y="723" width="1" height="21" fill="#c0c0c0"/>
<rect x="683" y="723" width="1" height="22" fill="#c0c0c0"/>
<rect x="691" y="723" width="1" height="20" fill="#c0c0c0"/>
<rect x="699" y="723" width="1" height="18" fill="#c0c0c0"/>
<rect x="707" y="723" width="1" height="15" fill="#c0c0c0"/>
<rect x="715" y="723" width="1" height="15" fill="#c0c0c0"/>
<rect x="723" y="723" width="1" height="14" fill="#c0c0c0"/>
<rect x="731" y="723" width="1" height="11" fill="#c0c0c0"/>
<rect x="739" y="723" width="1" height="8" fill="#c0c0c0"/>
<rect x="747" y="723" width="1" height="6" fill="#c0c0c0"/>
<rect x="755" y="723" width="1" height="5" fill="#c0c0c0"/>
<rect x="763" y="723" width="1" height="2" fill="#c0c0c0"/>
<rect x="771" y="722" width="1" height="2" fill="#c0c0c0"/>
<rect x="779" y="721" width="1" height="3" fill="#c0c0c0"/>
<rect x="787" y="722" width="1" height="2" fill="#c0c0c0"/>
<rect x="795" y="723" width="1" height="1" fill="#c0c0c0"/>
<rect x="803" y="723" width="1" height="2" fill="#c0c0c0"/>
<rect x="811" y="723" width="1" height="3" fill="#c0c0c0"/>
<rect x="819" y="723" width="1" height="4" fill="#c0c0c0"/>
<rect x="827" y="723" width="1" height="2" fill="#c0c0c0"/>
<rect x="835" y="722" width="1" height="2" fill="#c0c0c0"/>
<rect x="843" y="718" width="1" height="6" fill="#c0c0c0"/>
<rect x="851" y="717" width="1" height="7" fill="#c0c0c0"/>
<rect x="859" y="715" width="1" height="9" fill="#c0c0c0"/>
<rect x="867" y="713" width="1" height="11" fill="#c0c0c0"/>
<rect x="875" y="714" width="1" height="10" fill="#c0c0c0"/>
<rect x="883" y="713" width="1" height="11" fill="#c0c0c0"/>
<rect x="891" y="716" width="1" height="8" fill="#c0c0c0"/>
<rect x="899" y="722" width="1" height="2" fill="#c0c0c0"/>
<rect x="907" y="723" width="1" height="4" fill="#c0c0c0"/>
<rect x="915" y="723" width="1" height="8" fill="#c0c0c0"/>
<rect x="923" y="723" width="1" height="12" fill="#c0c0c0"/>
<rect x="931" y="723" width="1" height="11" fill="#c0c0c0"/>
<rect x="939" y="723" width="1" height="11" fill="#c0c0c0"/>
<rect x="947" y="723" width="1" height="6" fill="#c0c0c0"/>
<rect x="955" y="723" width="1" height="1" fill="#c0c0c0"/>
<rect x="963" y="719" width="1" height="5" fill="#c0c0c0"/>
<rect x="971" y="717" width="1" height="7" fill="#c0c0c0"/>
<rect x="979" y="716" width="1" height="8" fill="#c0c0c0"/>
<rect x="987" y="718" width="1" height="6" fill="#c0c0c0"/>
<rect x="995" y="717" width="1" height="7" fill="#c0c0c0"/>
<rect x="1003" y="717" width="1" height="7" fill="#c0c0c0"/>
<rect x="1011" y="716" width="1" height="8" fill="#c0c0c0"/>
<rect x="1019" y="715" width="1" height="9" fill="#c0c0c0"/>
<rect x="1027" y="713" width="1" height="11" fill="#c0c0c0"/>
<rect x="1035" y="711" width="1" height="13" fill="#c0c0c0"/>
<rect x="1043" y="712" width="1" height="12" fill="#c0c0c0"/>
<rect x="1051" y="712" width="1" height="12" fill="#c0c0c0"/>
<rect x="1059" y="711" width="1" height="13" fill="#c0c0c0"/>
<rect x="1067" y="713" width="1" height="11" fill="#c0c0c0"/>
<rect x="1075" y="712" width="1" height="12" fill="#c0c0c0"/>
<rect x="1083" y="711" width="1" height="13" fill="#c0c0c0"/>
<rect x="1091" y="710" width="1" height="14" fill="#c0c0c0"/>
<rect x="1099" y="707" width="1" height="17" fill="#c0c0c0"/>
<rect x="1107" y="705" width="1" height="19" fill="#c0c0c0"/>
<rect x="1115" y="703" width="1" height="21" fill="#c0c0c0"/>
<rect x="1123" y="700" width="1" height="24" fill="#c0c0c0"/>
<rect x="1131" y="695" width="1" height="29" fill="#c0c0c0"/>
<rect x="1139" y="689" width="1" height="35" fill="#c0c0c0"/>
<rect x="1147" y="685" width="1" height="39" fill="#c0c0c0"/>
<rect x="1155" y="683" width="1" height="41" fill="#c0c0c0"/>
<rect x="1163" y="682" width="1" height="42" fill="#c0c0c0"/>
<rect x="1171" y="682" width="1" height="42" fill="#c0c0c0"/>
<rect x="1179" y="684" width="1" height="40" fill="#c0c0c0"/>
<rect x="1187" y="684" width="1" height="40" fill="#c0c0c0"/>
<rect x="1195" y="685" width="1" height="39" fill="#c0c0c0"/>
<rect x="1203" y="686" width="1" height="38" fill="#c0c0c0"/>
<rect x="1211" y="687" width="1" height="37" fill="#c0c0c0"/>
<rect x="1219" y="687" width="1" height="37" fill="#c0c0c0"/>
<rect x="1227" y="687" width="1" height="37" fill="#c0c0c0"/>
<rect x="1235" y="684" width="1" height="40" fill="#c0c0c0"/>
<rect x="1243" y="682" width="1" height="42" fill="#c0c0c0"/>
</g>
<polyline points="3,681.57 11,684.59 19,687.30 27,690.08 35,692.88 43,695.52 51,697.81 59,699.77 67,701.39 75,702.66 83,704.02 91,705.66 99,707.29 107,708.25 115,708.81 123,708.99 131,709.04 139,708.96 147,708.92 155,708.52 163,707.69 171,706.55 179,705.34 187,704.02 195,702.77 203,701.35 211,699.74 219,697.53 227,694.99 235,692.36 243,689.68 251,686.56 259,683.31 267,679.80 275,676.08 283,672.32 291,669.11 299,666.67 307,664.86 315,663.00 323,661.80 331,661.37 339,661.68 347,662.76 355,664.54 363,666.58 371,668.53 379,670.39 387,672.71 395,675.03 403,676.75 411,678.13 419,679.29 427,680.66 435,682.24 443,684.00 451,685.89 459,687.91 467,690.08 475,692.28 483,694.38 491,695.97 499,696.78 507,697.51 515,698.27 523,699.15 531,699.93 539,700.82 547,702.26 555,703.96 563,705.81 571,707.95 579,709.83 587,711.27 595,712.41 603,713.52 611,714.47 619,715.03 627,715.37 635,716.33 643,717.69 651,719.47 659,721.79 667,724.59 675,727.65 683,730.69 691,733.56 699,736.24 707,738.12 715,739.42 723,740.08 731,739.90 739,738.89 747,737.32 755,735.54 763,733.56 771,731.47 779,729.52 787,727.78 795,726.18 803,725.25 811,724.74 819,724.52 827,724.16 835,723.86 843,723.42 851,723.00 859,722.22 867,721.19 875,719.92 883,718.46 891,717.24 899,716.90 907,717.45 915,718.90 923,720.87 931,722.91 939,725.14 947,726.82 955,727.93 963,728.18 971,727.60 979,726.36 987,724.87 995,722.94 1003,721.04 1011,719.06 1019,717.50 1027,716.35 1035,715.55 1043,714.96 1051,714.44 1059,713.71 1067,713.23 1075,712.73 1083,712.18 1091,711.58 1099,710.97 1107,710.27 1115,709.33 1123,708.01 1131,706.21 1139,703.52 1147,700.52 1155,697.43 1163,694.33 1171,691.50 1179,689.14 1187,686.96 1195,685.35 1203,684.36 1211,684.19 1219,684.45 1227,684.87 1235,685.15 1243,685.20" fill="none" stroke="#ff0000" stroke-width="1" stroke-dasharray="3,3" shape-rendering="crispEdges"/>
<rect x="1580" y="723" width="2" height="1" fill="#000" shape-rendering="crispEdges"/>
<rect x="1580" y="654" width="2" height="1" fill="#000" shape-rendering="crispEdges"/>
<rect x="1580" y="748" width="2" height="1" fill="#000" shape-rendering="crispEdges"/>
<text transform="translate(1583.2,664) scale(0.967,1)" font-size="9.4px" fill="#000" stroke="#000" stroke-width="0.12" >0.014384</text>
<text transform="translate(1583.2,726.5) scale(0.967,1)" font-size="9.4px" fill="#000" stroke="#000" stroke-width="0.12" >0.00</text>
<text transform="translate(1583,746) scale(0.967,1)" font-size="9.4px" fill="#000" stroke="#000" stroke-width="0.12" >-0.005396</text>
<text transform="translate(7,667) scale(0.99,1)" font-size="9.4px" fill="#000" stroke="#000" stroke-width="0.12" >MACD(12,26,9) 0.008540 0.007950</text>
<g shape-rendering="crispEdges">
<rect x="3" y="750" width="1" height="3" fill="#000"/>
<rect x="67" y="750" width="1" height="3" fill="#000"/>
<rect x="131" y="750" width="1" height="3" fill="#000"/>
<rect x="195" y="750" width="1" height="3" fill="#000"/>
<rect x="259" y="750" width="1" height="3" fill="#000"/>
<rect x="323" y="750" width="1" height="3" fill="#000"/>
<rect x="387" y="750" width="1" height="3" fill="#000"/>
<rect x="451" y="750" width="1" height="3" fill="#000"/>
<rect x="515" y="750" width="1" height="3" fill="#000"/>
<rect x="579" y="750" width="1" height="3" fill="#000"/>
<rect x="643" y="750" width="1" height="3" fill="#000"/>
<rect x="707" y="750" width="1" height="3" fill="#000"/>
<rect x="771" y="750" width="1" height="3" fill="#000"/>
<rect x="835" y="750" width="1" height="3" fill="#000"/>
<rect x="899" y="750" width="1" height="3" fill="#000"/>
<rect x="963" y="750" width="1" height="3" fill="#000"/>
<rect x="1027" y="750" width="1" height="3" fill="#000"/>
<rect x="1091" y="750" width="1" height="3" fill="#000"/>
<rect x="1155" y="750" width="1" height="3" fill="#000"/>
<rect x="1219" y="750" width="1" height="3" fill="#000"/>
</g>
<text transform="translate(1.7,762) scale(0.975,1)" font-size="9.4px" fill="#000" stroke="#000" stroke-width="0.12" >20 Jun 2020</text>
<text transform="translate(65.7,762) scale(0.975,1)" font-size="9.4px" fill="#000" stroke="#000" stroke-width="0.12" >30 Jun 2020</text>
<text transform="translate(129.7,762) scale(0.975,1)" font-size="9.4px" fill="#000" stroke="#000" stroke-width="0.12" >9 Jul 2020</text>
<text transform="translate(193.7,762) scale(0.975,1)" font-size="9.4px" fill="#000" stroke="#000" stroke-width="0.12" >18 Jul 2020</text>
<text transform="translate(257.7,762) scale(0.975,1)" font-size="9.4px" fill="#000" stroke="#000" stroke-width="0.12" >28 Jul 2020</text>
<text transform="translate(321.7,762) scale(0.975,1)" font-size="9.4px" fill="#000" stroke="#000" stroke-width="0.12" >6 Aug 2020</text>
<text transform="translate(385.7,762) scale(0.975,1)" font-size="9.4px" fill="#000" stroke="#000" stroke-width="0.12" >15 Aug 2020</text>
<text transform="translate(449.7,762) scale(0.975,1)" font-size="9.4px" fill="#000" stroke="#000" stroke-width="0.12" >25 Aug 2020</text>
<text transform="translate(513.7,762) scale(0.975,1)" font-size="9.4px" fill="#000" stroke="#000" stroke-width="0.12" >3 Sep 2020</text>
<text transform="translate(577.7,762) scale(0.975,1)" font-size="9.4px" fill="#000" stroke="#000" stroke-width="0.12" >12 Sep 2020</text>
<text transform="translate(641.7,762) scale(0.975,1)" font-size="9.4px" fill="#000" stroke="#000" stroke-width="0.12" >22 Sep 2020</text>
<text transform="translate(705.7,762) scale(0.975,1)" font-size="9.4px" fill="#000" stroke="#000" stroke-width="0.12" >1 Oct 2020</text>
<text transform="translate(769.7,762) scale(0.975,1)" font-size="9.4px" fill="#000" stroke="#000" stroke-width="0.12" >10 Oct 2020</text>
<text transform="translate(833.7,762) scale(0.975,1)" font-size="9.4px" fill="#000" stroke="#000" stroke-width="0.12" >20 Oct 2020</text>
<text transform="translate(897.7,762) scale(0.975,1)" font-size="9.4px" fill="#000" stroke="#000" stroke-width="0.12" >29 Oct 2020</text>
<text transform="translate(961.7,762) scale(0.975,1)" font-size="9.4px" fill="#000" stroke="#000" stroke-width="0.12" >7 Nov 2020</text>
<text transform="translate(1025.7,762) scale(0.975,1)" font-size="9.4px" fill="#000" stroke="#000" stroke-width="0.12" >17 Nov 2020</text>
<text transform="translate(1089.7,762) scale(0.975,1)" font-size="9.4px" fill="#000" stroke="#000" stroke-width="0.12" >26 Nov 2020</text>
<text transform="translate(1153.7,762) scale(0.975,1)" font-size="9.4px" fill="#000" stroke="#000" stroke-width="0.12" >5 Dec 2020</text>
<text transform="translate(1217.7,762) scale(0.975,1)" font-size="9.4px" fill="#000" stroke="#000" stroke-width="0.12" >15 Dec 2020</text>
<text transform="translate(18,38) scale(0.99,1)" font-size="9.4px" fill="#000" stroke="#000" stroke-width="0.12" >EURUSD,Daily&#160; 1.22445 1.22718 1.22382 1.22552</text>
<text transform="translate(43,14) scale(0.97,1)" font-size="9.4px" fill="#3a3a3a"  >M1</text>
<text transform="translate(70.5,14) scale(0.97,1)" font-size="9.4px" fill="#3a3a3a"  >M5</text>
<text transform="translate(96,14) scale(0.97,1)" font-size="9.4px" fill="#3a3a3a"  >M15</text>
<text transform="translate(124.5,14) scale(0.97,1)" font-size="9.4px" fill="#3a3a3a"  >M30</text>
<text transform="translate(155,14) scale(0.97,1)" font-size="9.4px" fill="#3a3a3a"  >H1</text>
<text transform="translate(182,14) scale(0.97,1)" font-size="9.4px" fill="#3a3a3a"  >H4</text>
<text transform="translate(211.5,14) scale(0.97,1)" font-size="9.4px" fill="#3a3a3a"  >D1</text>
<text transform="translate(238.5,14) scale(0.97,1)" font-size="9.4px" fill="#3a3a3a"  >W1</text>
<text transform="translate(265.5,14) scale(0.97,1)" font-size="9.4px" fill="#3a3a3a"  >MN</text>
<g shape-rendering="crispEdges">
<rect x="0" y="770" width="1624" height="1" fill="#e3e3e3"/>
<rect x="0" y="772" width="1624" height="1" fill="#000"/>
<rect x="0" y="773" width="1624" height="1" fill="#fff"/>
<rect x="0" y="774" width="1624" height="18" fill="#f0f0f0"/>
<rect x="0" y="792" width="1624" height="1" fill="#fff"/>
<rect x="0" y="793" width="1624" height="3" fill="#f0f0f0"/>
<rect x="4" y="772" width="104" height="19" fill="#fff"/>
<rect x="4" y="772" width="1" height="19" fill="#000"/>
<rect x="107" y="772" width="1" height="19" fill="#000"/>
<rect x="4" y="790" width="104" height="1" fill="#000"/>
</g>
<text x="16.3" y="786.5" font-size="12px" fill="#000"  >EURUSD,Daily</text>
<g shape-rendering="crispEdges">
<rect x="208" y="775" width="1" height="14" fill="#6b6b6b"/>
<rect x="312" y="775" width="1" height="14" fill="#6b6b6b"/>
<rect x="416" y="775" width="1" height="14" fill="#6b6b6b"/>
<rect x="520" y="775" width="1" height="14" fill="#6b6b6b"/>
<rect x="624" y="775" width="1" height="14" fill="#6b6b6b"/>
<rect x="716" y="775" width="1" height="14" fill="#6b6b6b"/>
<rect x="832" y="775" width="1" height="14" fill="#6b6b6b"/>
<rect x="904" y="775" width="1" height="14" fill="#6b6b6b"/>
<rect x="984" y="775" width="1" height="14" fill="#6b6b6b"/>
<rect x="1064" y="775" width="1" height="14" fill="#6b6b6b"/>
<rect x="1144" y="775" width="1" height="14" fill="#6b6b6b"/>
<rect x="1220" y="775" width="1" height="14" fill="#6b6b6b"/>
<rect x="1304" y="775" width="1" height="14" fill="#6b6b6b"/>
<rect x="1388" y="775" width="1" height="14" fill="#6b6b6b"/>
<rect x="1468" y="775" width="1" height="14" fill="#6b6b6b"/>
<rect x="1568" y="775" width="1" height="14" fill="#6b6b6b"/>
</g>
<text x="117.7" y="786.5" font-size="12px" fill="#666666"  >USDCHF,Daily</text>
<text x="219.2" y="786.5" font-size="12px" fill="#666666"  >AUDUSD,Daily</text>
<text x="322.7" y="786.5" font-size="12px" fill="#666666"  >USDCAD,Daily</text>
<text x="426.2" y="786.5" font-size="12px" fill="#666666"  >USDCNH,Daily</text>
<text x="532.2" y="786.5" font-size="12px" fill="#666666"  >EURUSD,Daily</text>
<text x="636.2" y="786.5" font-size="12px" fill="#666666"  >GBPUSD,H4</text>
<text x="725.2" y="786.5" font-size="12px" fill="#666666"  >XAUUSD,Weekly</text>
<text x="843.2" y="786.5" font-size="12px" fill="#666666"  >HK50,H1</text>
<text x="914.7" y="786.5" font-size="12px" fill="#666666"  >UK100,H1</text>
<text x="995.2" y="786.5" font-size="12px" fill="#666666"  >UK100,H1</text>
<text x="1075.2" y="786.5" font-size="12px" fill="#666666"  >GER30,H1</text>
<text x="1154.2" y="786.5" font-size="12px" fill="#666666"  >FRA40,H1</text>
<text x="1229.7" y="786.5" font-size="12px" fill="#666666"  >USOil,Daily</text>
<text x="1314.2" y="786.5" font-size="12px" fill="#666666"  >USDJPY,H1</text>
<text x="1398.2" y="786.5" font-size="12px" fill="#666666"  >DJ30,Daily</text>
<text x="1477.7" y="786.5" font-size="12px" fill="#666666"  >CHINA300,H1</text>
<svg x="1578" y="770" width="11.5" height="26"><text x="0.7" y="16.5" font-size="12px" fill="#666666">US</text></svg>
<path d="M1598,777.8 L1598,784.4 L1594.8,781.1 Z" fill="#8a8a8a"/>
<path d="M1613.8,777.8 L1613.8,784.4 L1617.2,781.1 Z" fill="#000"/>
</svg>
</body></html>
